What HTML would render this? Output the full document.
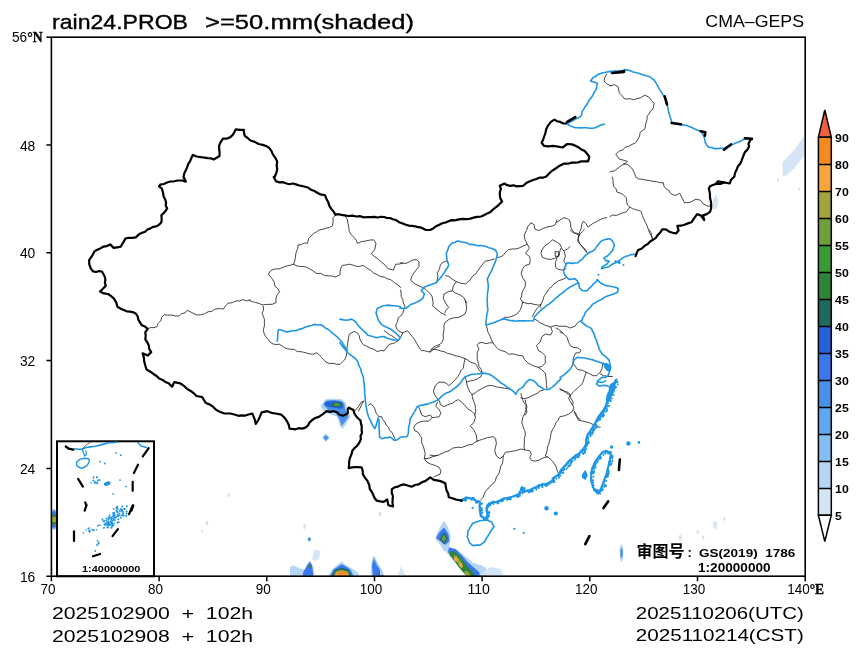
<!DOCTYPE html>
<html><head><meta charset="utf-8"><style>
html,body{margin:0;padding:0;background:#fff;}
body{width:860px;height:658px;overflow:hidden;}
svg{display:block;}
</style></head><body>
<svg width="860" height="658" viewBox="0 0 860 658">
<rect width="860" height="658" fill="#fff"/>
<defs><filter id="bl" x="-20%" y="-20%" width="140%" height="140%"><feGaussianBlur stdDeviation="0.7"/></filter><clipPath id="fr"><rect x="51.4" y="37" width="753.6" height="539"/></clipPath></defs><g clip-path="url(#fr)"><g filter="url(#bl)"><polygon points="322.5,403.4 325.1,399.6 330.1,398.8 341.8,399.2 345.5,402.5 347.2,408.4 350.6,416.8 347.2,422.2 342.6,428.9 339.7,426.0 337.6,416.8 330.9,414.7 326.7,413.0 322.1,409.6 320.5,405.9" fill="#b4d6f4"/><polygon points="324.2,402.5 326.7,400.5 335.1,400.0 341.8,400.9 344.3,403.4 345.1,409.2 348.5,416.8 345.1,421.8 341.8,426.0 339.3,419.3 335.1,412.6 329.2,410.9 325.9,407.6 323.4,405.1" fill="#4a90e6"/><polygon points="324.6,403.4 327.6,401.3 335.1,401.0 340.9,401.7 343.0,403.8 343.4,408.0 340.1,408.8 335.1,408.0 329.2,407.1 325.5,405.5" fill="#2464d8"/><ellipse cx="336.8" cy="404.6" rx="5.2" ry="2.4" fill="#1e6a5e"/><ellipse cx="336.8" cy="404.6" rx="3.6" ry="1.5" fill="#3a9a34"/><ellipse cx="336.8" cy="404.6" rx="1.8" ry="0.8" fill="#709e38"/><polygon points="325.9,433.7 329.5,437.7 325.9,441.7 322.3,437.7" fill="#84bef2"/><polygon points="325.9,435.2 328.2,437.7 325.9,440.2 323.6,437.7" fill="#4a90e6"/><polygon points="444.1,520.7 448.0,527.4 450.8,536.1 449.9,543.7 448.9,548.5 444.1,551.4 441.3,546.6 435.5,538.9 436.5,534.1 440.3,526.5" fill="#b4d6f4"/><polygon points="447.0,546.6 456.6,549.4 465.2,556.1 472.8,562.8 482.4,565.7 486.2,568.6 486.2,576.2 474.8,576.2 466.1,574.3 460.4,568.6 452.8,560.0 447.0,553.3 444.1,549.4" fill="#b4d6f4"/><polygon points="444.1,527.4 448.4,534.1 449.4,541.3 445.1,545.1 440.3,541.3 436.0,538.0 439.4,532.2" fill="#3a78ee"/><polygon points="448.9,547.5 455.6,549.0 461.8,555.2 467.6,561.9 474.3,568.1 479.5,572.4 479.5,576.2 470.9,576.2 465.2,572.4 458.5,564.8 452.8,558.1 448.0,552.3" fill="#3a78ee"/><polygon points="444.1,532.2 447.5,538.0 444.1,544.2 439.8,538.9" fill="#1e6a5e"/><polygon points="443.9,534.6 446.1,538.4 443.9,542.3 441.3,538.9" fill="#709e38"/><polygon points="449.9,551.8 453.7,550.9 458.0,554.2 462.8,560.0 467.6,566.7 472.4,571.5 474.8,576.2 467.1,576.2 463.3,572.4 458.5,566.7 453.7,560.0 449.9,555.2" fill="#2e8438"/><polygon points="453.7,555.2 456.6,555.7 461.4,561.9 463.3,566.7 461.4,568.6 457.5,562.8 453.7,558.1" fill="#a0a43c"/><ellipse cx="455.8" cy="559.5" rx="1.6" ry="2.2" fill="#f7a540" transform="rotate(-35.0 455.8 559.5)"/><ellipse cx="460.8" cy="565.0" rx="1.6" ry="2.2" fill="#f7a540" transform="rotate(-35.0 460.8 565.0)"/><polygon points="465.2,570.5 469.0,572.4 470.9,576.2 466.1,576.2 464.2,573.4" fill="#a0a43c"/><polygon points="290.0,567.1 293.5,565.3 299.3,568.3 305.1,569.4 308.6,561.3 310.3,561.3 313.8,568.3 314.4,575.8 290.0,575.8" fill="#b4d6f4"/><polygon points="312.1,559.0 314.4,549.7 320.2,550.8 319.1,559.0 315.0,561.3" fill="#d4e6f6"/><polygon points="302.8,572.9 307.4,564.8 309.8,561.9 312.1,564.8 313.3,575.8 302.8,575.8" fill="#3a78ee"/><ellipse cx="309.8" cy="566.5" rx="1.5" ry="1.6" fill="#2e8438"/><polygon points="328.4,575.8 331.9,569.4 338.8,563.6 341.7,561.3 344.7,564.2 351.6,568.3 358.6,572.9 358.6,575.8" fill="#b4d6f4"/><polygon points="330.1,575.8 333.6,569.4 338.8,565.9 341.7,564.2 345.2,565.9 350.5,569.4 353.4,575.8" fill="#3a78ee"/><polygon points="332.1,575.8 334.8,570.0 341.2,567.7 348.1,569.4 351.4,575.8" fill="#1e6a5e"/><polygon points="333.6,575.8 335.9,571.2 341.2,569.7 347.6,571.2 349.9,575.8" fill="#a0a43c"/><polygon points="334.8,575.8 337.1,572.7 341.2,571.7 346.4,572.7 348.7,575.8" fill="#f7a540"/><ellipse cx="342.0" cy="573.5" rx="4.5" ry="2.0" fill="#f58a22"/><polygon points="371.4,563.6 373.7,555.5 377.2,562.4 381.9,570.6 384.2,575.8 371.4,575.8" fill="#84bef2"/><polygon points="372.0,565.9 374.0,559.0 376.6,565.3 381.3,571.7 383.0,575.8 373.1,575.8" fill="#3a78ee"/><ellipse cx="379.5" cy="573.5" rx="1.4" ry="1.4" fill="#2e8438"/><ellipse cx="54.0" cy="519.5" rx="4.0" ry="10.5" fill="#84bef2"/><ellipse cx="54.0" cy="519.5" rx="3.5" ry="8.5" fill="#3a78ee"/><ellipse cx="54.0" cy="519.5" rx="3.0" ry="5.5" fill="#2e8438"/><ellipse cx="54.0" cy="519.5" rx="2.5" ry="2.8" fill="#a0a43c"/><polygon points="782.5,175.4 782.5,162.0 794.6,149.5 804.0,136.0 804.0,156.0 794.6,168.0 786.0,176.0" fill="#d4e6f6"/><polygon points="713.0,200.0 716.0,194.0 718.0,200.0 716.0,210.0 713.0,208.0" fill="#d4e6f6"/><polygon points="713.5,200.3 718.1,199.1 718.1,204.9 714.7,209.6 712.3,207.2" fill="#d4e6f6"/><ellipse cx="621.5" cy="553.0" rx="1.8" ry="9.0" fill="#b4d6f4"/><ellipse cx="621.5" cy="553.0" rx="1.2" ry="5.0" fill="#4a90e6"/><ellipse cx="680.3" cy="537.5" rx="1.6" ry="2.9" fill="#d4e6f6"/><ellipse cx="697.7" cy="532.0" rx="1.2" ry="2.2" fill="#d4e6f6"/><ellipse cx="703.0" cy="537.5" rx="1.2" ry="2.2" fill="#d4e6f6"/><ellipse cx="715.0" cy="525.0" rx="2.2" ry="4.0" fill="#d4e6f6"/><ellipse cx="724.4" cy="518.8" rx="1.2" ry="2.2" fill="#d4e6f6"/><ellipse cx="229.0" cy="495.0" rx="1.2" ry="2.2" fill="#d4e6f6"/><ellipse cx="207.0" cy="523.0" rx="1.4" ry="2.5" fill="#d4e6f6"/><ellipse cx="202.3" cy="531.0" rx="1.0" ry="1.8" fill="#d4e6f6"/><ellipse cx="304.7" cy="526.5" rx="1.4" ry="2.5" fill="#d4e6f6"/><ellipse cx="380.0" cy="513.7" rx="1.4" ry="2.5" fill="#d4e6f6"/><ellipse cx="778.0" cy="180.0" rx="1.0" ry="1.8" fill="#d4e6f6"/><ellipse cx="799.0" cy="189.0" rx="1.0" ry="1.8" fill="#d4e6f6"/><ellipse cx="315.0" cy="554.0" rx="1.5" ry="2.7" fill="#d4e6f6"/><polygon points="309.3,536.8 311.3,539.3 309.3,541.8 307.3,539.3" fill="#4a90e6"/><polygon points="398.0,575.0 401.0,566.0 405.0,575.0" fill="#d4e6f6"/><polygon points="480.0,575.0 490.0,567.0 501.0,569.0 503.0,575.0" fill="#d4e6f6"/><polygon points="380.0,568.0 383.0,575.0 380.0,575.0" fill="#b4d6f4"/></g></g>
<g fill="none" stroke-linejoin="round" stroke-linecap="round">
<path d="M147.7 328.8 150.6 327.5 154.0 327.7 157.0 326.5 158.2 323.3 160.7 320.8 161.6 317.4 164.0 314.9 167.8 315.1 171.8 315.1 175.6 316.0 179.1 316.0 181.5 313.8 185.0 312.9 187.2 310.2 191.9 312.6 196.5 314.9 200.7 314.8 204.7 313.7 208.0 311.8 211.9 311.3 215.1 309.1 219.2 308.5 223.3 309.1 225.4 306.0 227.9 303.3 232.2 302.7 236.0 300.9 239.6 300.9 243.0 299.6 246.6 300.9 250.0 299.8 M335.3 215.4 333.0 217.7 333.1 221.8 332.6 225.8 329.5 227.6 326.0 228.2 322.9 229.3 319.6 229.9 316.7 231.7 313.6 233.5 311.1 236.0 308.6 238.6 307.4 243.3 304.2 243.0 301.3 244.8 298.1 244.9 297.9 248.0 296.7 250.8 295.8 253.7 295.4 257.3 294.8 260.8 293.5 264.2 290.6 265.2 287.6 265.7 284.8 266.8 281.9 267.7 279.0 268.9 275.9 268.9 272.9 269.5 270.2 271.2 268.4 274.2 270.5 276.7 272.6 279.3 274.4 282.6 274.9 286.3 277.9 288.7 279.5 292.1 277.2 294.7 276.0 297.9 276.0 302.6 272.2 304.3 267.9 304.4 262.1 304.9 259.0 303.4 255.7 302.5 252.4 301.7 249.3 300.3 M293.5 264.2 296.8 265.9 300.5 266.5 303.8 266.5 306.8 267.4 309.8 268.9 313.3 271.1 316.7 273.5 320.8 273.4 324.4 275.6 328.4 275.8 331.9 276.0 335.3 277.0 340.0 274.7 340.1 271.4 340.8 268.3 342.3 265.4 345.9 265.0 349.3 264.2 352.4 264.9 355.4 266.0 358.6 266.5 363.3 265.4 366.6 267.9 370.2 270.0 373.4 272.8 377.2 274.7 380.4 276.6 384.2 277.0 387.1 278.8 390.6 279.6 393.5 281.7 395.8 283.6 398.5 285.1 400.5 287.5 M344.7 215.4 347.2 219.1 348.1 223.5 348.8 227.6 349.3 231.7 351.3 234.8 354.0 237.5 356.2 240.1 357.4 243.3 361.4 241.7 365.6 241.0 369.6 240.1 373.7 239.8 376.0 243.3 374.9 249.1 371.4 253.7 374.1 256.3 377.2 258.4 379.5 260.4 381.7 262.4 384.2 264.2 386.2 266.9 388.8 268.9 393.5 270.0 394.5 267.0 395.8 264.2 399.4 264.1 402.8 263.0 M606.7 74.2 604.8 77.5 604.0 81.2 606.9 83.8 610.2 85.8 M610.2 85.8 614.7 84.7 618.1 87.0 619.3 92.8 622.0 95.5 624.0 98.6 627.1 99.0 630.2 98.7 633.3 99.8 636.7 98.7 640.2 97.9 644.9 95.1 649.5 97.5 651.4 100.7 654.2 103.3 653.0 109.1 650.5 111.0 649.2 113.8 647.2 116.1 647.0 119.6 646.0 123.0 644.9 128.9 640.2 132.3 639.6 136.0 637.9 139.3 635.6 142.8 632.0 144.4 628.6 146.3 625.2 147.2 622.7 150.0 619.3 151.0 615.8 154.4 619.3 159.1 624.0 160.3 627.4 161.4 625.1 163.7 622.0 165.1 619.3 167.2 614.7 170.7 610.0 171.9 M624.0 163.7 627.8 164.7 630.9 167.2 633.0 170.1 634.5 173.2 635.6 176.5 M400.0 262.7 403.0 263.2 406.1 263.4 410.6 261.2 413.5 259.8 416.7 259.6 419.0 261.9 419.0 266.5 415.2 271.1 412.2 275.6 410.6 280.2 415.2 284.0 419.8 286.3 422.8 287.5 426.6 290.1 430.4 293.9 432.1 296.7 432.7 299.9 433.2 303.0 432.7 306.0 436.5 309.1 441.1 312.9 445.6 315.1 M436.5 282.5 437.4 279.2 437.9 275.9 437.3 272.6 439.5 269.1 440.3 265.0 442.5 262.5 445.6 261.2 448.4 262.7 M445.6 275.6 449.0 276.4 451.7 278.7 456.3 281.7 460.8 283.2 465.4 284.0 469.9 280.2 473.0 275.6 475.8 273.9 477.5 271.1 479.8 268.0 482.1 265.0 485.1 261.2 489.7 260.4 494.3 258.9 M456.3 281.7 453.2 286.3 452.5 290.8 448.7 291.6 444.1 293.9 443.3 298.4 445.6 303.0 448.7 307.5 445.6 310.6 444.9 312.9 M452.5 290.8 454.9 292.8 457.8 293.9 461.0 295.5 463.9 297.7 465.4 300.3 466.9 303.0 M606.7 217.7 603.4 218.2 600.4 219.5 597.4 221.2 592.8 223.5 588.1 227.0 586.1 223.9 583.5 221.2 581.7 224.5 581.2 228.2 579.8 231.6 578.8 235.1 577.7 241.0 580.1 243.8 582.3 246.8 585.8 251.4 M539.3 306.1 536.8 308.9 534.7 311.9 532.3 316.5 M612.3 177.0 613.0 180.1 613.2 183.2 613.5 186.3 616.0 188.8 617.0 192.1 620.0 193.0 622.8 194.4 626.3 197.9 626.6 201.5 627.4 204.9 629.8 207.2 626.3 211.9 622.7 212.8 619.3 214.2 616.3 215.5 612.9 215.0 610.0 216.5 M629.8 207.2 632.6 208.7 635.6 209.6 638.6 210.4 641.4 211.9 642.3 215.5 643.7 218.9 645.4 222.4 647.2 225.8 648.3 229.3 649.5 232.8 651.5 236.2 653.0 239.8 M635.6 177.0 638.8 179.0 642.6 179.3 646.0 180.2 649.5 180.5 653.0 181.4 656.5 181.7 659.9 182.7 663.5 182.8 663.8 186.0 665.8 188.6 668.7 190.3 670.5 193.3 675.1 195.6 679.8 193.3 682.1 197.9 684.4 202.6 689.1 202.6 692.7 201.0 696.0 199.1 700.7 200.3 703.0 203.7 707.7 206.1 711.2 206.1 M263.3 306.3 263.5 309.9 262.1 313.3 263.3 316.2 264.4 319.3 264.4 322.6 264.4 326.1 263.3 329.5 264.0 333.2 265.6 336.5 268.1 339.3 270.2 342.3 272.9 343.9 275.9 344.5 279.2 344.2 281.9 345.8 284.7 347.8 287.8 348.9 291.2 349.3 294.4 349.3 297.2 351.6 300.5 351.6 303.6 352.3 306.7 353.1 309.8 354.0 313.4 354.2 316.7 352.8 319.4 354.8 321.4 357.4 323.7 359.8 326.0 362.1 329.4 363.5 333.0 363.3 336.4 364.2 340.0 364.4 342.3 362.1 344.7 359.8 346.3 356.1 346.8 352.1 347.0 348.1 347.7 344.1 348.1 340.0 349.3 334.2 354.0 331.4 357.4 333.0 359.2 335.7 359.8 338.8 361.3 341.9 363.3 344.7 366.8 346.3 370.2 348.1 374.0 349.4 377.2 351.6 380.6 350.5 384.2 350.9 386.0 348.4 387.7 345.8 390.3 344.0 393.5 343.5 398.1 340.7 M384.2 330.7 388.8 334.2 391.8 335.8 394.7 337.7 398.1 340.7 M398.1 340.7 400.7 337.0 402.8 333.0 407.4 330.7 409.8 333.6 412.1 336.5 414.8 339.8 416.7 343.5 418.9 347.1 421.4 350.5 424.5 350.7 427.5 351.7 430.7 351.6 435.3 348.1 440.0 345.8 M400.5 290.0 401.2 293.1 401.1 296.4 402.8 299.3 403.2 303.0 405.1 306.3 403.6 309.6 402.8 313.3 400.8 315.9 398.1 317.9 397.6 321.6 395.8 324.9 396.3 328.1 398.1 330.7 402.8 333.0 M363.3 401.6 360.9 406.3 358.6 410.9 M465.0 300.0 465.9 303.5 466.7 307.0 466.3 310.6 465.0 314.0 461.6 316.0 458.0 317.5 453.5 317.9 449.2 319.2 444.9 322.7 443.8 326.1 444.0 329.7 443.1 335.0 443.4 338.6 442.2 342.0 440.0 344.3 437.0 345.5 434.1 346.7 431.7 349.0 430.0 352.4 M431.7 349.0 437.0 349.8 440.4 350.9 444.0 351.6 447.3 353.3 451.0 354.2 456.2 355.9 459.3 356.3 462.1 357.6 465.0 358.6 467.8 360.0 470.2 362.1 475.5 363.8 477.2 366.4 479.0 369.9 482.4 373.1 M465.0 358.6 464.1 362.9 463.2 368.2 461.0 370.5 459.7 373.4 458.2 376.2 456.2 378.7 452.7 382.2 449.2 385.7 446.8 383.7 444.0 382.2 438.7 382.2 435.2 385.7 433.5 390.9 434.5 394.8 437.0 397.9 439.6 401.4 M485.9 324.5 487.1 327.9 487.7 331.5 490.3 336.7 491.5 339.8 492.9 342.8 489.4 342.8 485.9 343.7 482.5 342.5 479.0 342.8 477.2 345.5 479.0 349.0 477.2 352.4 477.3 355.9 477.2 359.4 478.3 362.9 479.0 366.4 481.3 369.4 482.4 373.1 M492.9 342.8 496.4 347.2 498.7 349.5 501.7 350.7 505.5 351.8 508.7 354.2 513.1 353.9 517.4 355.1 522.7 355.9 524.4 359.4 527.9 362.9 531.3 364.8 534.9 366.4 538.4 367.3 541.9 369.9 545.4 373.4 545.8 376.9 546.3 380.4 546.4 384.8 547.1 389.2 M534.9 319.2 537.7 320.7 540.1 322.7 545.4 325.3 550.6 327.1 555.9 325.3 559.3 326.3 562.9 326.2 566.5 326.4 569.9 328.0 575.1 326.2 577.2 323.2 580.0 321.0 M550.6 327.1 552.4 331.5 550.6 335.0 545.4 334.1 541.9 336.7 540.1 342.0 536.6 345.5 538.4 350.7 541.9 352.4 545.4 355.9 545.1 359.4 545.4 362.9 541.9 366.4 538.4 367.3 M555.9 328.0 559.8 330.0 562.9 333.2 M465.0 376.9 466.2 380.3 466.7 383.9 468.5 389.2 469.9 392.0 472.0 394.4 472.5 398.0 473.7 401.4 475.0 404.8 475.5 408.4 475.7 411.8 474.6 415.0 M482.4 373.1 480.7 376.9 477.3 378.9 473.7 380.4 470.1 380.9 466.7 382.2 M472.0 394.4 475.5 392.7 477.9 390.7 480.7 389.2 485.9 386.5 489.4 385.4 492.9 385.7 496.3 386.9 499.9 387.4 505.2 388.3 510.4 389.2 M520.9 393.5 521.7 396.6 522.7 399.7 523.8 402.7 526.2 404.9 525.8 408.5 527.0 411.9 525.3 415.0 M520.9 397.9 524.4 398.6 527.9 397.9 531.3 396.1 534.9 394.4 537.8 393.1 540.1 390.9 543.6 390.0 M439.6 401.4 440.5 404.9 444.0 406.6 447.5 404.9 452.7 403.1 455.2 401.1 458.0 399.7 M560.0 332.0 563.5 333.7 567.0 337.2 568.7 342.4 570.5 345.9 574.0 347.7 577.5 347.7 581.0 350.3 579.2 352.9 575.7 352.9 574.0 356.4 573.1 359.9 573.1 363.4 575.7 366.9 577.5 369.5 582.7 370.4 586.2 372.2 589.7 373.9 593.2 375.7 596.7 375.7 600.2 372.2 602.0 368.7 602.8 363.4 M586.2 372.2 584.5 377.4 582.7 382.7 580.4 385.6 577.5 387.9 574.0 391.4 570.5 394.9 568.7 398.4 570.5 401.9 572.2 405.0 M560.0 389.7 565.2 391.4 568.3 392.4 570.5 394.9 M600.2 373.9 603.7 375.7 608.1 376.5 612.4 376.5 M458.8 400.0 461.5 402.2 464.1 404.4 467.6 408.7 472.0 411.4 474.6 414.0 475.5 417.5 473.7 422.7 470.2 426.2 473.7 429.7 476.3 435.0 476.7 438.0 477.2 441.1 M477.2 441.1 482.4 439.3 487.7 437.6 492.9 436.7 495.6 438.5 496.4 443.7 495.4 447.2 494.7 450.7 496.4 455.9 499.9 458.6 503.4 455.9 505.2 452.4 510.4 451.6 515.7 450.7 520.9 449.0 524.4 449.8 529.7 450.7 531.4 454.2 529.7 457.7 531.4 460.3 534.9 461.2 538.4 460.3 543.6 457.7 547.1 456.8 M477.2 441.1 474.4 442.6 472.0 444.6 468.3 444.9 465.0 446.3 461.6 447.5 458.0 447.2 452.7 448.1 449.2 450.7 444.0 452.4 438.7 455.1 435.2 455.9 430.0 455.1 M503.4 455.9 502.9 459.4 502.6 462.9 500.8 466.3 499.9 469.9 498.9 473.8 496.4 476.9 495.4 480.8 492.9 483.9 490.0 486.2 487.7 489.2 485.3 491.4 484.2 494.4 483.1 497.4 480.7 499.7 M525.3 400.0 525.9 403.6 527.0 407.0 525.3 412.2 522.7 417.5 521.8 422.7 523.5 428.0 525.0 431.3 525.3 435.0 524.4 438.4 524.4 442.0 524.1 445.9 524.4 449.8 M559.4 417.5 558.0 420.4 555.9 422.7 554.6 426.4 552.4 429.7 551.0 433.1 550.6 436.7 549.7 440.2 548.9 443.7 547.5 447.1 547.1 450.7 545.4 455.9 548.9 457.7 552.4 461.2 554.3 463.7 555.9 466.4 557.6 471.7 559.4 475.2 M574.2 412.2 576.9 417.5 580.0 419.2 M560.0 388.7 562.8 390.2 565.2 392.2 569.6 394.9 570.5 397.5 573.1 401.9 572.7 405.0 574.0 408.0 572.2 411.5 568.7 414.1 564.4 415.8 560.0 416.7 M574.0 410.6 576.6 415.0 578.4 420.2 582.7 421.1 586.2 422.0 589.7 422.8 593.2 424.6 595.0 426.3 600.2 427.2 M368.4 405.3 371.0 403.6 374.5 408.0 376.2 413.2 378.8 416.7 381.5 416.7 382.7 419.7 385.0 422.0 386.1 425.0 388.5 427.2 389.5 430.3 392.0 432.4 393.7 435.9 395.5 440.3 M418.2 406.2 419.9 409.7 421.7 415.0 425.2 416.7 430.4 415.0 432.2 417.6 428.7 421.1 423.4 421.1 419.9 422.0 416.4 423.7 413.8 427.2 414.7 430.7 418.2 432.4 419.7 435.2 421.7 437.7 421.7 442.9 423.4 446.4 424.3 449.9 425.2 453.4 424.3 458.7 426.9 462.2 430.4 463.9 435.7 465.7 439.2 467.4 440.9 470.9 440.0 474.4 436.8 475.4 433.9 477.0 M424.3 458.7 428.4 458.3 432.2 456.9 437.4 455.2 M437.4 402.7 435.7 406.2 439.2 409.7 440.9 413.2 439.2 416.7 435.7 417.3 432.2 417.6 M355.2 410.6 358.7 406.2 361.4 401.9 364.0 401.0 M570.4 230.0 573.4 233.0 576.6 233.1 579.5 234.6 582.5 231.5 584.1 230.0 M579.5 234.6 578.0 239.1 579.5 243.7 582.5 246.7 585.6 249.7 587.1 252.8 M649.4 230.0 651.0 232.8 651.7 236.1 652.4 239.1 M531.1 223.0 534.1 224.6 534.9 229.1 538.7 230.6 543.2 228.4 547.8 226.8 552.4 226.1 555.4 224.6 556.9 220.0 M556.7 222.3 560.2 220.0 563.7 217.7 566.8 218.4 569.5 220.0 570.6 223.4 570.7 227.0 572.1 230.1 574.2 232.8 578.8 235.1 M531.1 223.0 528.0 226.1 526.5 230.6 524.2 235.2 525.0 239.8 527.3 244.3 529.5 248.1 526.5 251.9 525.7 253.5 529.5 256.5 530.3 259.5 529.5 264.1 525.0 265.6 522.7 268.7 521.2 273.2 522.7 277.8 525.7 282.4 525.0 286.9 523.3 289.9 521.9 293.0 521.7 296.2 520.4 299.1 522.7 302.1 528.0 303.7 531.1 303.5 534.1 304.4 538.7 305.2 541.0 304.4 540.2 306.7 541.7 308.2 M527.3 244.3 523.5 245.9 518.9 248.1 515.9 248.9 512.8 248.9 508.3 249.7 505.2 252.7 502.9 255.7 499.1 257.3 497.6 257.3 M541.0 304.4 543.2 299.1 544.2 295.8 546.3 293.0 549.3 288.4 551.9 286.5 553.9 283.9 558.4 280.8 563.0 279.3 566.0 277.8 M522.7 302.1 521.9 305.2 520.4 309.7 516.6 314.3 511.3 316.6 508.3 317.3 505.2 317.3 502.2 318.9 M541.7 250.4 544.8 245.9 549.3 242.8 552.4 239.8 556.9 242.1 560.0 244.3 561.5 247.4 560.0 250.4 559.2 255.0 555.4 258.0 550.8 259.5 546.3 258.8 542.5 257.3 541.0 253.5 541.7 250.4 M561.5 248.1 564.5 251.9 565.3 256.5 563.8 261.1 565.7 264.1 M559.2 255.0 556.9 258.0 555.4 262.6 555.4 267.1 558.4 269.4 563.0 270.2 566.0 268.7 M555.1 251.9 558.4 251.6 558.7 256.2 555.4 256.5 555.1 251.9 M564.5 250.4 567.6 248.9 570.0 246.6" stroke="#262626" stroke-width="0.85"/>
<path d="M340.0 342.5 341.3 344.7 342.7 346.7 344.4 348.6 345.9 350.6 347.5 352.5 349.8 354.5 352.3 356.1 354.6 357.9 356.7 360.1 358.1 362.2 358.6 364.8 359.7 367.0 360.9 369.3 361.4 372.3 362.6 375.1 363.5 377.8 363.6 380.7 364.2 383.5 364.4 386.0 364.4 388.5 364.8 391.0 364.5 393.5 365.2 396.0 365.1 398.5 365.5 401.0 365.8 403.6 366.1 406.1 366.6 408.6 367.0 411.1 367.6 413.6 368.4 416.2 369.4 418.7 370.8 421.1 371.8 423.6 373.2 426.2 374.8 428.6 375.9 426.2 376.5 423.6 377.5 420.8 378.1 417.8 379.0 420.3 379.1 423.1 379.0 425.8 379.0 428.6 379.4 431.4 379.4 434.2 379.6 437.0 381.8 438.7 384.6 438.0 387.4 437.6 390.2 437.0 392.2 438.7 394.3 440.3 396.9 440.0 400.2 437.3 403.5 436.7 406.9 436.7 408.2 434.0 408.5 430.5 408.6 427.0 409.5 424.2 409.9 421.4 410.2 418.6 411.8 416.5 413.0 414.1 414.4 411.9 415.8 409.5 416.9 406.9 419.4 405.6 422.5 405.1 425.6 404.4 428.6 403.9 M567.2 124.2 569.5 125.4 572.3 126.8 575.3 127.7 578.1 127.7 580.8 127.9 583.5 127.7 586.6 127.7 589.7 128.3 592.8 128.2 595.8 127.4 598.6 126.1 601.4 124.9 604.4 124.2 M568.4 123.0 571.1 121.5 573.8 120.0 576.5 118.4 578.9 117.4 581.2 116.1 582.3 111.4 583.8 109.1 585.0 106.6 586.9 104.6 588.1 102.1 589.4 99.6 591.4 97.6 592.8 95.1 594.3 92.1 596.3 89.3 596.7 86.4 597.4 83.5 595.1 82.3 590.5 81.2 592.8 77.7 595.2 76.6 597.3 74.8 599.8 73.7 602.8 72.7 606.0 72.2 609.1 71.4 612.6 71.2 616.0 70.7 M610.0 71.9 613.5 72.0 617.0 71.4 619.7 70.8 622.5 70.5 625.1 69.6 627.9 70.1 630.6 70.9 633.3 71.9 636.4 72.8 639.5 73.6 642.6 74.7 646.0 75.8 649.5 76.5 651.8 78.4 654.2 80.0 655.9 82.9 657.7 85.8 659.2 88.9 661.2 91.7 662.9 94.6 664.7 97.5 665.9 100.9 667.0 104.4 667.8 107.5 668.3 110.7 669.3 113.7 669.8 116.5 671.0 119.1 671.6 121.9 674.4 123.3 677.4 124.2 680.9 124.9 684.4 124.9 687.9 126.1 691.4 127.2 694.3 128.7 697.2 130.0 699.6 131.0 701.9 132.3 703.0 134.7 704.2 137.0 704.8 139.9 705.3 142.8 707.0 145.2 708.8 147.5 711.6 147.5 714.2 148.6 717.0 148.6 720.5 148.4 724.0 148.2 726.3 147.1 728.7 146.3 730.9 145.1 733.7 144.0 736.4 142.8 739.1 141.7 742.0 140.3 744.9 138.6 749.5 138.2 M400.0 308.3 403.0 308.4 406.1 308.3 408.4 306.5 410.6 304.5 413.7 303.4 416.7 302.2 419.9 300.5 422.8 298.4 424.3 293.9 421.3 290.8 424.3 287.0 427.4 285.9 430.4 284.7 433.5 283.8 436.5 282.5 438.6 279.7 441.1 277.1 442.7 274.9 444.3 272.7 445.6 270.3 447.4 267.8 448.7 265.0 447.1 260.4 446.8 257.9 446.5 255.4 446.4 252.8 447.8 249.9 448.7 246.7 450.4 244.7 452.5 242.9 455.2 242.3 457.8 240.9 460.8 241.8 463.9 242.2 467.0 243.1 469.9 244.4 473.0 244.6 476.0 245.2 478.5 245.6 481.1 245.5 483.6 246.0 486.2 246.5 488.6 247.7 491.2 248.2 493.5 249.3 495.8 250.5 497.3 254.3 496.5 258.1 495.0 262.7 493.7 265.3 492.7 268.0 491.5 271.2 489.7 274.1 488.6 276.4 487.4 278.7 487.7 281.7 488.2 284.7 488.3 287.8 487.9 290.8 487.4 293.9 487.3 296.9 487.1 299.9 487.4 303.0 487.3 306.0 487.9 309.1 487.5 312.2 486.7 315.1 486.4 318.4 486.0 321.7 485.9 325.0 488.6 324.3 491.2 323.5 494.3 322.5 497.3 321.2 500.3 319.9 503.4 318.9 506.5 319.4 509.5 320.5 512.5 320.6 515.6 321.2 518.6 320.8 521.6 320.9 524.4 320.9 527.2 320.8 530.0 320.8 M529.5 320.7 533.3 321.0 534.7 316.5 537.0 314.2 539.3 311.8 541.6 309.6 544.0 307.9 546.1 305.8 548.7 304.4 550.9 302.6 553.4 300.7 555.4 298.3 557.9 296.5 560.2 294.4 562.7 292.8 564.8 290.9 567.1 289.0 569.5 287.5 571.8 286.1 574.2 285.1 576.4 283.7 578.8 282.8 M277.2 341.2 277.7 338.3 277.6 335.3 278.0 332.4 278.4 329.5 281.2 330.0 283.9 330.9 286.5 331.9 289.6 331.4 292.7 330.8 295.8 330.7 298.9 329.4 302.1 328.6 305.1 327.2 308.2 326.3 311.3 325.4 314.4 324.4 317.9 325.0 321.4 324.9 323.7 326.5 325.9 328.3 328.4 329.5 330.6 331.5 332.9 333.6 335.3 335.3 337.9 337.5 340.0 340.0 342.3 342.3 343.7 345.3 345.7 347.9 347.0 350.9 M340.0 319.1 343.4 319.9 347.0 320.2 351.6 319.1 354.1 320.6 356.3 322.6 358.6 326.0 360.9 328.4 363.3 330.7 365.7 332.9 367.9 335.3 371.0 336.1 374.1 337.0 377.2 337.7 380.6 336.8 384.2 336.5 386.4 338.0 388.8 338.8 393.5 340.0 398.1 340.0 400.5 337.7 398.1 335.4 395.8 333.0 393.5 331.3 391.2 329.5 388.9 328.3 386.5 327.2 384.1 326.1 381.9 324.9 380.0 322.6 378.4 320.2 377.3 316.7 376.0 313.3 377.2 308.6 379.6 307.5 381.9 306.3 385.3 305.5 388.8 305.1 391.9 305.7 395.1 305.7 398.1 306.3 400.5 306.7 M430.0 403.1 433.6 402.0 437.0 400.5 439.4 398.6 441.6 396.4 444.0 394.4 446.2 393.1 448.7 392.2 451.0 390.9 453.3 389.2 455.7 387.5 458.0 385.7 459.8 383.5 461.6 381.4 463.0 379.0 465.0 376.9 468.4 375.4 472.0 374.3 474.6 374.3 477.2 374.0 479.9 373.6 482.4 373.1 486.0 373.4 489.4 374.3 492.2 375.8 494.7 377.8 497.4 379.9 499.9 382.2 502.6 383.9 505.2 385.7 507.7 387.5 510.4 389.2 513.9 391.8 515.7 394.4 517.4 390.9 519.9 388.9 522.7 387.4 524.4 384.8 526.2 382.2 529.7 379.5 533.1 380.4 536.0 382.8 538.4 385.7 541.2 387.2 543.6 389.2 546.3 389.5 548.9 389.5 551.5 387.6 554.1 385.7 556.5 383.4 558.7 380.9 561.1 378.7 M581.0 320.6 581.0 321.5 583.7 323.6 586.2 325.8 588.9 327.1 591.5 328.5 592.5 331.2 594.1 333.7 594.7 336.4 595.8 339.0 596.9 341.5 597.6 344.2 598.6 346.8 599.3 349.4 600.7 351.6 602.0 353.8 604.2 355.5 606.3 357.3 609.0 359.9 609.8 363.4 610.7 366.9 609.8 370.4 609.0 373.1 608.1 375.7 605.5 377.4 602.0 377.4 599.8 379.2 597.6 380.9 596.7 384.4 599.3 386.2 602.4 385.5 605.5 385.3 608.1 386.2 610.7 387.0 614.2 389.7 M560.0 377.4 562.7 375.8 565.2 373.9 567.9 371.3 570.5 368.7 572.0 366.2 573.1 363.4 574.0 359.9 577.5 357.3 580.4 357.6 583.3 357.7 586.2 358.2 589.7 359.2 593.2 359.9 595.8 361.1 598.5 361.7 602.8 363.4 607.2 364.3 609.8 366.9 M596.7 383.5 598.5 381.7 602.0 382.6 605.5 380.9 M473.0 523.0 476.5 522.0 480.0 520.7 483.5 520.3 487.0 520.0 489.3 521.0 491.6 521.9 492.7 524.3 494.0 526.5 491.6 530.0 489.8 532.8 488.1 535.8 486.1 538.6 484.7 541.6 482.4 543.4 480.0 545.1 476.5 545.1 473.0 545.6 469.5 542.8 468.5 539.8 467.2 537.0 467.8 534.1 467.9 531.2 469.5 528.9 470.7 526.5 473.0 523.0 M563.5 270.3 565.1 266.5 567.3 262.7 571.9 263.4 574.9 263.0 578.0 262.7 580.1 260.6 582.5 258.9 585.6 255.1 587.9 253.7 590.1 252.0 592.6 251.2 594.7 249.7 596.1 247.4 597.7 245.2 600.8 241.4 603.8 239.9 606.8 239.1 609.9 238.8 612.2 240.6 613.5 242.8 614.4 245.2 612.9 249.7 610.6 252.8 607.6 255.8 603.8 258.1 605.3 260.4 609.1 261.1 606.8 264.2 604.6 265.4 602.3 266.5 601.5 268.7 604.1 267.8 606.8 267.2 609.3 266.4 611.4 264.9 613.5 263.5 616.0 262.7 618.2 261.0 620.5 259.6 622.6 257.9 625.1 256.6 628.1 255.7 631.1 254.6 635.7 254.3 M563.5 270.3 564.3 274.1 566.6 277.1 568.9 279.4 571.9 279.2 574.9 278.6 577.2 280.9 578.7 283.9 579.5 287.7 582.5 290.8 587.1 290.8 589.2 288.3 591.6 286.2 593.3 284.1 595.4 282.4 597.7 280.1 600.8 283.2 603.1 284.3 605.3 285.4 609.9 286.2 614.4 287.0 618.2 288.5 617.5 292.3 614.4 293.8 609.9 295.3 605.3 296.8 603.0 298.3 600.8 299.9 598.4 300.8 596.2 302.2 592.4 304.4 590.1 307.5 587.1 310.5 584.8 313.5 584.0 316.0 582.5 318.1 581.8 321.1" stroke="#1e96e6" stroke-width="1.6"/>
<path d="M615.9 380.0 614.2 385.2 612.4 390.5 609.8 394.0 608.1 399.2 606.3 404.5 604.6 408.8 602.0 412.3 598.5 416.7 595.8 422.0 593.2 426.3 590.6 430.7 588.0 434.2 586.2 439.4 586.2 444.7 582.7 449.9 579.2 453.4 574.0 456.9 568.7 461.3 565.2 465.7 561.7 469.2 560.0 471.8" stroke="#1e96e6" stroke-width="2.3"/>
<path d="M552.4 478.7 557.6 475.2 561.1 471.7 M606.3 450.8 609.8 452.6 610.7 455.2 609.8 460.4 608.1 467.4 606.3 474.4 603.7 481.4 601.1 488.4 599.3 492.8 597.6 493.6 594.1 489.3 592.3 484.9 591.1 477.9 591.5 470.9 594.1 463.9 598.5 456.9 602.8 452.0 606.3 450.8 M461.4 500.9 466.0 497.4 471.9 498.6 476.5 500.9 480.0 502.1 479.5 505.6 480.0 512.6 482.3 517.2 485.8 518.4 487.4 514.9 486.5 510.2 487.0 505.6 489.3 503.3 496.3 502.1 503.3 498.6 510.2 497.4 519.5 494.0 521.9 487.0 524.2 491.6 528.8 490.5 538.1 485.8 547.4 483.5 553.3 480.0" stroke="#1e96e6" stroke-width="2.0"/>
<g fill="#1e96e6" stroke="none"><circle cx="615.3" cy="383.1" r="0.88"/><circle cx="615.7" cy="382.1" r="1.03"/><circle cx="616.8" cy="379.5" r="0.88"/><circle cx="617.6" cy="381.8" r="0.93"/><circle cx="617.7" cy="384.5" r="0.99"/><circle cx="613.8" cy="387.3" r="0.95"/><circle cx="615.5" cy="381.0" r="1.14"/><circle cx="617.1" cy="382.3" r="0.98"/><circle cx="612.9" cy="387.4" r="0.92"/><circle cx="613.9" cy="389.0" r="1.05"/><circle cx="613.9" cy="389.6" r="1.09"/><circle cx="615.2" cy="387.5" r="1.16"/><circle cx="613.4" cy="391.7" r="0.89"/><circle cx="615.6" cy="387.1" r="1.02"/><circle cx="615.9" cy="387.3" r="1.05"/><circle cx="613.2" cy="391.4" r="1.06"/><circle cx="612.0" cy="394.6" r="1.18"/><circle cx="613.0" cy="391.5" r="1.10"/><circle cx="613.7" cy="394.8" r="0.95"/><circle cx="613.2" cy="391.0" r="1.01"/><circle cx="611.8" cy="390.4" r="1.12"/><circle cx="612.4" cy="391.4" r="1.15"/><circle cx="610.7" cy="395.5" r="1.16"/><circle cx="610.9" cy="398.4" r="1.00"/><circle cx="611.8" cy="398.4" r="0.90"/><circle cx="609.8" cy="394.9" r="1.02"/><circle cx="609.1" cy="396.2" r="1.00"/><circle cx="610.6" cy="398.5" r="1.09"/><circle cx="610.5" cy="398.2" r="0.87"/><circle cx="610.5" cy="401.0" r="1.13"/><circle cx="608.2" cy="400.8" r="1.07"/><circle cx="607.6" cy="399.4" r="0.91"/><circle cx="607.1" cy="400.1" r="0.90"/><circle cx="608.6" cy="399.0" r="1.16"/><circle cx="606.9" cy="402.5" r="0.97"/><circle cx="607.3" cy="403.3" r="1.20"/><circle cx="608.4" cy="401.1" r="0.89"/><circle cx="607.8" cy="403.1" r="0.91"/><circle cx="609.1" cy="405.6" r="0.90"/><circle cx="604.9" cy="407.9" r="1.19"/><circle cx="606.7" cy="408.3" r="0.98"/><circle cx="608.2" cy="406.2" r="1.12"/><circle cx="606.0" cy="407.9" r="1.19"/><circle cx="607.1" cy="410.2" r="1.11"/><circle cx="607.2" cy="405.8" r="0.86"/><circle cx="604.9" cy="409.0" r="1.09"/><circle cx="603.1" cy="414.7" r="1.20"/><circle cx="602.8" cy="412.1" r="0.93"/><circle cx="604.2" cy="410.9" r="1.17"/><circle cx="603.5" cy="413.2" r="1.13"/><circle cx="606.1" cy="411.5" r="1.12"/><circle cx="600.5" cy="415.4" r="1.13"/><circle cx="603.1" cy="416.4" r="0.99"/><circle cx="603.4" cy="415.8" r="0.91"/><circle cx="601.5" cy="415.3" r="1.13"/><circle cx="603.8" cy="415.6" r="1.08"/><circle cx="602.1" cy="413.4" r="0.85"/><circle cx="600.3" cy="417.6" r="1.18"/><circle cx="603.0" cy="416.3" r="0.92"/><circle cx="598.3" cy="418.0" r="1.06"/><circle cx="598.7" cy="417.6" r="1.17"/><circle cx="598.6" cy="419.8" r="1.17"/><circle cx="600.1" cy="419.8" r="1.04"/><circle cx="596.6" cy="420.1" r="0.91"/><circle cx="600.7" cy="416.5" r="1.02"/><circle cx="598.0" cy="420.8" r="1.03"/><circle cx="599.2" cy="419.1" r="1.05"/><circle cx="595.6" cy="424.9" r="1.03"/><circle cx="596.5" cy="426.8" r="1.01"/><circle cx="595.5" cy="425.6" r="1.09"/><circle cx="596.0" cy="424.8" r="1.18"/><circle cx="596.6" cy="427.5" r="0.94"/><circle cx="597.2" cy="426.5" r="0.90"/><circle cx="596.5" cy="421.9" r="0.93"/><circle cx="594.8" cy="428.6" r="1.16"/><circle cx="594.8" cy="428.5" r="0.90"/><circle cx="593.8" cy="430.1" r="1.18"/><circle cx="593.3" cy="430.7" r="1.14"/><circle cx="593.7" cy="428.0" r="0.97"/><circle cx="593.3" cy="428.9" r="0.86"/><circle cx="592.7" cy="427.9" r="0.97"/><circle cx="590.2" cy="432.2" r="1.19"/><circle cx="591.4" cy="432.9" r="0.94"/><circle cx="592.7" cy="430.9" r="0.90"/><circle cx="592.2" cy="434.2" r="0.94"/><circle cx="592.9" cy="432.4" r="1.10"/><circle cx="590.0" cy="432.6" r="1.00"/><circle cx="590.6" cy="436.0" r="1.13"/><circle cx="590.3" cy="434.0" r="1.15"/><circle cx="587.8" cy="437.7" r="1.17"/><circle cx="587.4" cy="436.6" r="0.93"/><circle cx="587.8" cy="434.1" r="0.92"/><circle cx="587.9" cy="437.7" r="0.95"/><circle cx="587.1" cy="437.2" r="0.86"/><circle cx="587.0" cy="437.2" r="1.04"/><circle cx="587.3" cy="442.9" r="0.89"/><circle cx="587.2" cy="444.6" r="1.14"/><circle cx="587.4" cy="443.1" r="1.19"/><circle cx="588.6" cy="442.9" r="1.07"/><circle cx="586.9" cy="440.9" r="0.90"/><circle cx="588.3" cy="439.8" r="0.91"/><circle cx="588.7" cy="442.1" r="1.08"/><circle cx="585.5" cy="446.3" r="1.01"/><circle cx="586.7" cy="445.6" r="1.19"/><circle cx="584.2" cy="449.8" r="1.19"/><circle cx="585.8" cy="445.4" r="0.98"/><circle cx="585.8" cy="447.0" r="1.03"/><circle cx="586.6" cy="444.1" r="0.99"/><circle cx="585.6" cy="445.1" r="0.93"/><circle cx="585.5" cy="449.6" r="1.08"/><circle cx="586.3" cy="448.9" r="0.96"/><circle cx="579.2" cy="455.1" r="1.08"/><circle cx="585.0" cy="452.4" r="1.07"/><circle cx="582.5" cy="452.1" r="1.03"/><circle cx="583.4" cy="453.7" r="1.14"/><circle cx="583.3" cy="453.5" r="1.09"/><circle cx="581.4" cy="450.3" r="0.98"/><circle cx="584.8" cy="451.4" r="1.07"/><circle cx="577.8" cy="456.5" r="0.85"/><circle cx="577.1" cy="457.1" r="1.04"/><circle cx="575.4" cy="457.5" r="0.94"/><circle cx="579.2" cy="455.4" r="0.92"/><circle cx="578.3" cy="456.9" r="0.98"/><circle cx="578.6" cy="457.0" r="1.07"/><circle cx="575.5" cy="455.3" r="0.94"/><circle cx="575.8" cy="457.2" r="0.85"/><circle cx="579.3" cy="455.2" r="1.09"/><circle cx="570.9" cy="460.8" r="1.01"/><circle cx="571.4" cy="461.3" r="0.92"/><circle cx="571.6" cy="460.4" r="1.01"/><circle cx="572.6" cy="461.2" r="0.94"/><circle cx="575.7" cy="457.7" r="1.05"/><circle cx="574.5" cy="460.1" r="0.90"/><circle cx="570.9" cy="462.8" r="1.10"/><circle cx="575.4" cy="458.8" r="0.86"/><circle cx="575.1" cy="457.7" r="0.96"/><circle cx="573.9" cy="457.8" r="1.14"/><circle cx="570.8" cy="463.4" r="0.89"/><circle cx="567.5" cy="467.7" r="0.95"/><circle cx="568.3" cy="465.6" r="1.06"/><circle cx="568.4" cy="463.0" r="0.87"/><circle cx="570.8" cy="461.9" r="1.18"/><circle cx="568.2" cy="463.3" r="0.92"/><circle cx="570.3" cy="465.2" r="1.13"/><circle cx="569.2" cy="466.5" r="1.04"/><circle cx="562.3" cy="469.9" r="1.01"/><circle cx="564.3" cy="468.4" r="0.87"/><circle cx="561.9" cy="469.7" r="0.97"/><circle cx="566.3" cy="469.3" r="0.94"/><circle cx="563.4" cy="469.1" r="0.99"/><circle cx="564.6" cy="466.1" r="1.17"/><circle cx="563.7" cy="469.8" r="1.20"/><circle cx="560.9" cy="470.1" r="0.88"/><circle cx="560.9" cy="470.0" r="0.94"/><circle cx="563.3" cy="472.5" r="0.99"/><circle cx="562.3" cy="470.7" r="0.97"/><circle cx="553.0" cy="480.5" r="0.89"/><circle cx="556.4" cy="478.7" r="0.93"/><circle cx="554.0" cy="478.2" r="1.01"/><circle cx="559.3" cy="477.1" r="0.86"/><circle cx="554.1" cy="480.4" r="1.02"/><circle cx="555.0" cy="477.0" r="1.17"/><circle cx="558.7" cy="477.9" r="0.94"/><circle cx="552.9" cy="479.1" r="1.09"/><circle cx="562.5" cy="473.0" r="1.12"/><circle cx="560.3" cy="473.0" r="1.12"/><circle cx="560.6" cy="475.5" r="0.96"/><circle cx="558.3" cy="475.8" r="1.09"/><circle cx="557.7" cy="475.6" r="1.05"/><circle cx="559.1" cy="474.8" r="0.85"/><circle cx="608.2" cy="453.4" r="1.08"/><circle cx="610.3" cy="452.3" r="0.94"/><circle cx="611.2" cy="452.6" r="0.86"/><circle cx="609.5" cy="452.2" r="0.94"/><circle cx="610.8" cy="451.9" r="0.86"/><circle cx="610.9" cy="454.7" r="0.92"/><circle cx="612.2" cy="455.4" r="0.92"/><circle cx="611.1" cy="456.7" r="0.93"/><circle cx="612.2" cy="456.5" r="1.18"/><circle cx="610.3" cy="457.7" r="1.00"/><circle cx="612.4" cy="458.4" r="0.99"/><circle cx="612.8" cy="456.0" r="0.87"/><circle cx="611.3" cy="457.4" r="1.16"/><circle cx="612.5" cy="461.0" r="0.97"/><circle cx="611.7" cy="463.1" r="0.86"/><circle cx="609.3" cy="465.4" r="0.97"/><circle cx="609.1" cy="461.7" r="0.97"/><circle cx="608.0" cy="469.2" r="0.92"/><circle cx="611.1" cy="464.6" r="1.00"/><circle cx="610.6" cy="461.1" r="1.17"/><circle cx="610.1" cy="463.6" r="0.86"/><circle cx="611.0" cy="464.8" r="0.86"/><circle cx="609.5" cy="462.6" r="0.94"/><circle cx="608.9" cy="472.9" r="0.95"/><circle cx="607.7" cy="474.1" r="1.10"/><circle cx="607.8" cy="468.9" r="1.11"/><circle cx="607.8" cy="475.8" r="0.86"/><circle cx="608.6" cy="471.1" r="1.18"/><circle cx="607.6" cy="470.6" r="1.02"/><circle cx="606.5" cy="475.5" r="1.11"/><circle cx="608.4" cy="474.2" r="0.96"/><circle cx="608.1" cy="471.2" r="0.88"/><circle cx="607.5" cy="475.8" r="0.87"/><circle cx="607.4" cy="474.9" r="1.19"/><circle cx="606.4" cy="480.6" r="0.88"/><circle cx="607.0" cy="476.4" r="1.01"/><circle cx="606.4" cy="477.1" r="1.09"/><circle cx="606.3" cy="480.8" r="0.89"/><circle cx="604.5" cy="481.2" r="0.98"/><circle cx="604.5" cy="479.6" r="0.94"/><circle cx="608.0" cy="476.4" r="0.96"/><circle cx="605.0" cy="484.9" r="0.93"/><circle cx="603.0" cy="489.2" r="0.89"/><circle cx="604.3" cy="486.4" r="1.17"/><circle cx="604.0" cy="481.3" r="0.92"/><circle cx="602.4" cy="490.2" r="0.98"/><circle cx="602.2" cy="487.5" r="1.12"/><circle cx="601.1" cy="489.0" r="1.07"/><circle cx="603.7" cy="482.6" r="0.92"/><circle cx="604.3" cy="484.3" r="0.92"/><circle cx="601.5" cy="489.7" r="0.91"/><circle cx="600.6" cy="491.3" r="1.04"/><circle cx="600.8" cy="489.1" r="1.04"/><circle cx="599.7" cy="490.9" r="1.09"/><circle cx="600.7" cy="490.3" r="1.18"/><circle cx="601.7" cy="490.1" r="1.00"/><circle cx="600.2" cy="493.8" r="0.92"/><circle cx="598.2" cy="492.7" r="1.17"/><circle cx="598.0" cy="492.2" r="1.16"/><circle cx="596.0" cy="490.9" r="1.04"/><circle cx="597.5" cy="490.4" r="1.07"/><circle cx="597.3" cy="491.7" r="0.95"/><circle cx="598.0" cy="491.0" r="1.02"/><circle cx="597.1" cy="490.0" r="0.89"/><circle cx="596.6" cy="490.2" r="0.87"/><circle cx="593.1" cy="487.1" r="1.07"/><circle cx="592.6" cy="487.2" r="0.93"/><circle cx="595.3" cy="489.2" r="0.91"/><circle cx="594.4" cy="489.1" r="0.98"/><circle cx="594.1" cy="490.1" r="1.16"/><circle cx="595.2" cy="490.5" r="0.86"/><circle cx="591.2" cy="480.0" r="1.04"/><circle cx="592.0" cy="481.0" r="1.05"/><circle cx="593.2" cy="482.5" r="1.00"/><circle cx="593.6" cy="485.4" r="0.93"/><circle cx="593.2" cy="480.2" r="0.91"/><circle cx="591.6" cy="481.2" r="1.00"/><circle cx="593.0" cy="485.0" r="0.86"/><circle cx="591.3" cy="481.8" r="1.12"/><circle cx="591.4" cy="482.0" r="0.98"/><circle cx="591.4" cy="473.0" r="1.20"/><circle cx="593.2" cy="472.6" r="1.19"/><circle cx="593.6" cy="476.4" r="0.91"/><circle cx="593.6" cy="471.9" r="0.97"/><circle cx="591.4" cy="474.5" r="0.95"/><circle cx="591.3" cy="472.9" r="1.17"/><circle cx="591.5" cy="477.2" r="0.96"/><circle cx="591.2" cy="477.4" r="1.18"/><circle cx="593.5" cy="472.9" r="1.12"/><circle cx="592.8" cy="471.2" r="0.98"/><circle cx="594.9" cy="465.8" r="1.16"/><circle cx="594.1" cy="471.3" r="0.99"/><circle cx="593.8" cy="467.5" r="1.05"/><circle cx="594.1" cy="468.9" r="0.91"/><circle cx="593.1" cy="467.4" r="0.94"/><circle cx="595.5" cy="467.4" r="1.08"/><circle cx="591.8" cy="468.1" r="0.90"/><circle cx="593.8" cy="467.4" r="1.16"/><circle cx="594.8" cy="464.2" r="0.86"/><circle cx="594.6" cy="463.5" r="0.98"/><circle cx="596.3" cy="463.3" r="0.92"/><circle cx="597.7" cy="459.2" r="1.18"/><circle cx="595.1" cy="461.8" r="1.07"/><circle cx="599.7" cy="458.3" r="0.94"/><circle cx="595.5" cy="464.7" r="0.97"/><circle cx="597.7" cy="461.4" r="1.11"/><circle cx="597.3" cy="461.6" r="1.04"/><circle cx="596.1" cy="460.5" r="1.12"/><circle cx="599.6" cy="458.9" r="0.90"/><circle cx="600.6" cy="456.7" r="1.07"/><circle cx="602.0" cy="453.1" r="0.96"/><circle cx="600.8" cy="458.2" r="1.10"/><circle cx="600.4" cy="458.3" r="1.01"/><circle cx="602.5" cy="453.2" r="0.89"/><circle cx="599.1" cy="456.0" r="1.11"/><circle cx="603.5" cy="454.9" r="0.94"/><circle cx="605.5" cy="452.9" r="1.03"/><circle cx="605.1" cy="453.8" r="0.93"/><circle cx="605.5" cy="451.0" r="0.93"/><circle cx="607.7" cy="452.5" r="0.96"/><circle cx="466.0" cy="497.8" r="1.17"/><circle cx="465.8" cy="499.9" r="1.19"/><circle cx="465.5" cy="500.6" r="1.15"/><circle cx="465.0" cy="500.3" r="0.96"/><circle cx="463.7" cy="499.7" r="1.17"/><circle cx="461.7" cy="500.0" r="1.18"/><circle cx="462.9" cy="499.1" r="0.86"/><circle cx="471.4" cy="499.5" r="1.11"/><circle cx="467.6" cy="497.8" r="1.14"/><circle cx="472.9" cy="497.9" r="1.15"/><circle cx="473.6" cy="498.1" r="0.92"/><circle cx="466.3" cy="499.3" r="1.13"/><circle cx="471.6" cy="499.3" r="0.95"/><circle cx="466.4" cy="499.0" r="0.92"/><circle cx="474.1" cy="498.7" r="0.94"/><circle cx="474.8" cy="499.6" r="0.96"/><circle cx="477.3" cy="502.6" r="1.07"/><circle cx="472.7" cy="499.2" r="1.12"/><circle cx="475.0" cy="500.2" r="0.93"/><circle cx="475.7" cy="502.3" r="0.91"/><circle cx="476.6" cy="502.4" r="1.19"/><circle cx="477.5" cy="501.6" r="1.13"/><circle cx="478.1" cy="501.4" r="1.14"/><circle cx="479.7" cy="501.3" r="0.93"/><circle cx="480.6" cy="504.1" r="1.07"/><circle cx="481.8" cy="503.7" r="1.13"/><circle cx="480.3" cy="504.7" r="0.99"/><circle cx="479.4" cy="507.0" r="0.86"/><circle cx="479.9" cy="508.9" r="1.03"/><circle cx="481.8" cy="508.2" r="1.01"/><circle cx="481.5" cy="510.7" r="1.08"/><circle cx="480.2" cy="507.7" r="1.15"/><circle cx="481.5" cy="510.0" r="1.00"/><circle cx="481.1" cy="510.6" r="1.01"/><circle cx="480.2" cy="511.6" r="0.96"/><circle cx="481.8" cy="510.2" r="0.90"/><circle cx="480.1" cy="508.1" r="0.91"/><circle cx="480.8" cy="516.2" r="1.11"/><circle cx="482.5" cy="512.6" r="0.98"/><circle cx="484.1" cy="518.5" r="1.00"/><circle cx="481.8" cy="513.1" r="0.92"/><circle cx="480.5" cy="514.8" r="1.13"/><circle cx="482.6" cy="516.9" r="1.01"/><circle cx="484.1" cy="517.8" r="1.11"/><circle cx="486.3" cy="519.2" r="1.11"/><circle cx="484.0" cy="519.1" r="1.16"/><circle cx="486.6" cy="519.8" r="1.09"/><circle cx="487.7" cy="516.3" r="1.07"/><circle cx="486.7" cy="519.6" r="1.10"/><circle cx="487.1" cy="516.7" r="1.01"/><circle cx="487.5" cy="517.4" r="1.18"/><circle cx="487.5" cy="519.3" r="0.99"/><circle cx="489.3" cy="512.0" r="1.04"/><circle cx="489.1" cy="516.1" r="1.03"/><circle cx="488.5" cy="515.3" r="1.10"/><circle cx="488.3" cy="514.2" r="1.03"/><circle cx="489.3" cy="512.9" r="1.09"/><circle cx="488.8" cy="512.7" r="1.19"/><circle cx="486.4" cy="508.6" r="0.99"/><circle cx="487.2" cy="510.7" r="1.09"/><circle cx="487.0" cy="508.5" r="1.11"/><circle cx="488.0" cy="505.8" r="1.13"/><circle cx="486.8" cy="508.1" r="1.12"/><circle cx="488.2" cy="507.1" r="1.05"/><circle cx="489.8" cy="505.4" r="1.07"/><circle cx="490.8" cy="504.3" r="0.95"/><circle cx="488.1" cy="506.0" r="0.97"/><circle cx="489.2" cy="504.0" r="0.94"/><circle cx="492.3" cy="502.0" r="1.10"/><circle cx="491.5" cy="503.1" r="1.02"/><circle cx="493.6" cy="503.9" r="0.98"/><circle cx="497.8" cy="501.6" r="1.14"/><circle cx="497.4" cy="501.9" r="1.14"/><circle cx="493.3" cy="501.8" r="1.18"/><circle cx="494.1" cy="502.1" r="0.90"/><circle cx="492.7" cy="503.3" r="0.90"/><circle cx="497.4" cy="502.0" r="1.16"/><circle cx="502.3" cy="501.2" r="1.16"/><circle cx="503.7" cy="499.2" r="1.09"/><circle cx="501.6" cy="500.8" r="1.16"/><circle cx="500.4" cy="500.1" r="0.90"/><circle cx="499.4" cy="501.0" r="0.90"/><circle cx="500.7" cy="501.2" r="1.15"/><circle cx="498.3" cy="502.7" r="1.05"/><circle cx="502.9" cy="500.1" r="1.00"/><circle cx="502.7" cy="499.9" r="1.07"/><circle cx="497.8" cy="503.2" r="1.18"/><circle cx="507.9" cy="499.0" r="1.02"/><circle cx="509.1" cy="498.9" r="1.07"/><circle cx="507.6" cy="498.5" r="1.02"/><circle cx="508.7" cy="497.9" r="1.00"/><circle cx="507.3" cy="499.8" r="0.95"/><circle cx="509.7" cy="498.4" r="0.95"/><circle cx="509.1" cy="499.2" r="1.13"/><circle cx="506.0" cy="498.4" r="1.06"/><circle cx="509.5" cy="497.3" r="1.10"/><circle cx="519.6" cy="493.8" r="0.96"/><circle cx="510.4" cy="499.4" r="1.06"/><circle cx="518.1" cy="497.0" r="1.06"/><circle cx="517.3" cy="496.6" r="1.06"/><circle cx="516.7" cy="496.3" r="1.01"/><circle cx="517.1" cy="494.6" r="0.86"/><circle cx="519.6" cy="495.9" r="0.98"/><circle cx="519.7" cy="495.5" r="0.94"/><circle cx="513.8" cy="496.6" r="1.00"/><circle cx="518.4" cy="494.6" r="1.05"/><circle cx="510.5" cy="498.9" r="1.05"/><circle cx="519.6" cy="493.6" r="0.99"/><circle cx="523.1" cy="491.9" r="1.02"/><circle cx="520.3" cy="492.2" r="0.92"/><circle cx="519.5" cy="492.2" r="1.09"/><circle cx="522.1" cy="492.6" r="1.15"/><circle cx="519.4" cy="494.4" r="0.93"/><circle cx="521.3" cy="488.3" r="1.12"/><circle cx="523.2" cy="490.4" r="0.88"/><circle cx="522.6" cy="490.2" r="1.18"/><circle cx="522.4" cy="493.5" r="0.85"/><circle cx="523.3" cy="488.7" r="0.88"/><circle cx="524.2" cy="488.2" r="1.15"/><circle cx="522.7" cy="489.6" r="1.05"/><circle cx="524.4" cy="488.7" r="1.13"/><circle cx="524.1" cy="489.8" r="1.00"/><circle cx="524.5" cy="490.8" r="1.12"/><circle cx="527.2" cy="490.4" r="1.19"/><circle cx="529.4" cy="491.0" r="1.06"/><circle cx="530.6" cy="491.5" r="0.96"/><circle cx="528.3" cy="491.5" r="1.09"/><circle cx="529.1" cy="492.5" r="0.95"/><circle cx="524.5" cy="492.1" r="1.06"/><circle cx="538.5" cy="486.1" r="1.14"/><circle cx="538.4" cy="487.6" r="0.95"/><circle cx="538.6" cy="487.8" r="1.17"/><circle cx="531.8" cy="489.7" r="1.13"/><circle cx="532.4" cy="491.5" r="0.93"/><circle cx="536.0" cy="488.3" r="0.92"/><circle cx="532.9" cy="490.8" r="1.01"/><circle cx="531.5" cy="491.6" r="0.93"/><circle cx="536.3" cy="489.6" r="1.03"/><circle cx="534.5" cy="488.1" r="0.92"/><circle cx="532.1" cy="489.9" r="1.05"/><circle cx="533.6" cy="488.3" r="0.87"/><circle cx="538.7" cy="485.4" r="1.07"/><circle cx="545.4" cy="485.0" r="0.97"/><circle cx="542.6" cy="484.0" r="1.20"/><circle cx="547.1" cy="484.7" r="0.94"/><circle cx="546.1" cy="486.0" r="1.12"/><circle cx="548.1" cy="483.9" r="0.86"/><circle cx="540.0" cy="484.9" r="0.87"/><circle cx="545.4" cy="485.1" r="1.18"/><circle cx="546.3" cy="484.7" r="0.99"/><circle cx="541.5" cy="485.6" r="1.05"/><circle cx="546.4" cy="485.5" r="0.99"/><circle cx="542.3" cy="486.8" r="1.20"/><circle cx="539.8" cy="485.3" r="0.97"/><circle cx="554.8" cy="482.0" r="0.87"/><circle cx="553.6" cy="481.9" r="1.19"/><circle cx="547.7" cy="484.7" r="1.18"/><circle cx="551.8" cy="482.1" r="1.12"/><circle cx="548.5" cy="483.1" r="0.89"/><circle cx="550.2" cy="481.8" r="0.90"/><circle cx="550.9" cy="482.5" r="0.92"/><circle cx="549.8" cy="483.3" r="1.18"/><circle cx="611.6" cy="447.0" r="1.7"/><circle cx="628.4" cy="443.5" r="2.2"/><circle cx="638.9" cy="442.4" r="1.3"/><circle cx="605.8" cy="485.9" r="1.2"/><circle cx="546.5" cy="508.3" r="2.2"/><circle cx="555.8" cy="513.5" r="2.1"/><circle cx="514.4" cy="528.8" r="1.1"/><circle cx="523.7" cy="533.0" r="1.1"/><circle cx="472.6" cy="507.9" r="1.1"/><circle cx="615.6" cy="261.5" r="1.3"/><circle cx="619.2" cy="262.4" r="1.5"/><circle cx="623.5" cy="264.9" r="1.0"/><circle cx="598.5" cy="274.8" r="1.0"/><circle cx="597.3" cy="279.7" r="1.0"/></g>
<path d="M603.7 363.4 608.1 364.3 610.7 367.8 609.8 371.3 607.2 370.4 604.6 366.9Z M610.7 384.4 613.3 382.7 615.1 386.2 614.2 390.5 611.6 394.9 609.8 399.3 608.1 401.9 606.3 400.1 607.2 394.9 609.0 391.4Z M582.7 474.4 585.3 470.9 587.1 475.3 585.3 479.3 582.4 477.0Z" stroke="#1e96e6" stroke-width="1.2" fill="#1e96e6"/>
<path d="M92.3 255.6 94.4 251.4 97.3 249.8 100.3 248.4 103.3 246.7 106.9 246.1 110.2 244.4 113.7 247.9 117.2 247.3 120.7 246.7 122.3 244.0 123.9 241.4 125.3 238.6 128.8 237.8 132.3 237.8 135.8 237.4 139.3 234.0 142.2 232.8 145.1 231.7 147.5 229.5 150.5 228.4 153.2 226.8 156.4 226.4 159.1 224.7 161.4 222.3 161.7 218.8 161.4 215.3 164.9 211.9 167.2 208.4 165.7 205.6 166.1 202.4 165.2 199.5 163.7 196.7 163.0 192.6 161.9 188.6 159.1 186.3 160.2 184.7 163.8 184.0 167.1 182.5 170.5 181.5 174.2 181.3 177.7 180.5 182.3 180.5 185.8 181.6 183.5 177.0 184.2 173.6 185.7 170.5 187.1 167.4 188.2 164.1 190.1 161.2 191.4 158.0 192.8 154.9 196.7 156.5 200.9 157.2 204.4 157.6 207.9 158.2 211.4 158.4 213.7 159.5 216.6 157.8 219.5 156.0 219.6 152.5 219.2 149.1 219.1 145.6 220.8 141.9 223.0 138.6 226.6 138.7 230.0 137.4 232.5 135.1 234.3 132.3 235.8 129.3 239.9 129.8 244.0 129.8 M243.5 130.0 244.7 135.8 247.7 138.0 250.5 140.5 254.7 141.9 258.6 144.0 262.8 144.9 266.7 146.3 269.5 148.2 271.4 151.0 273.0 154.6 275.4 157.9 277.2 161.4 276.7 165.5 277.2 169.6 276.2 173.1 274.9 176.5 M92.3 255.6 89.1 260.2 89.3 264.4 90.7 268.4 93.0 271.4 96.1 272.0 99.3 271.0 102.3 271.9 104.7 276.5 105.4 279.6 104.9 282.8 105.8 285.8 102.9 288.8 100.0 291.6 103.9 293.4 108.1 294.0 111.1 296.2 114.0 298.6 116.2 302.4 117.4 306.7 120.8 308.7 124.4 310.2 127.2 311.5 130.3 311.7 133.3 312.3 136.0 313.7 137.7 316.5 138.4 319.8 140.1 322.6 141.9 325.3 145.0 326.6 147.7 328.8 145.3 332.3 145.7 335.8 145.3 339.3 147.3 342.3 148.8 345.4 149.3 349.1 151.2 352.1 147.7 355.6 142.6 353.3 143.8 357.2 144.2 361.4 145.3 365.5 146.5 369.5 149.5 371.2 152.3 373.0 M153.5 374.0 156.6 376.0 159.3 378.6 162.6 379.9 165.3 382.0 168.6 383.3 172.1 386.7 174.4 382.1 180.2 383.3 182.7 385.0 185.1 386.9 187.2 389.1 190.7 390.9 193.8 393.3 196.5 396.0 202.3 397.2 204.0 400.2 205.8 403.0 209.5 404.4 212.8 406.5 216.3 410.0 220.3 411.9 224.4 413.5 230.2 413.5 234.4 414.5 238.4 415.8 241.5 415.4 244.7 415.7 247.7 414.7 252.3 413.5 253.5 416.4 254.7 419.3 255.8 424.0 258.1 420.5 260.0 416.4 261.6 412.3 267.4 411.2 271.4 412.8 275.6 413.5 281.4 414.7 284.9 418.1 287.2 421.6 288.8 425.0 289.5 428.6 295.3 429.3 298.8 428.2 302.4 428.6 305.8 427.4 308.1 425.4 309.4 422.6 311.6 420.5 314.9 418.1 318.8 416.9 322.1 414.7 326.7 411.2 330.2 411.8 333.7 411.2 337.0 412.3 339.6 414.8 343.0 415.8 347.7 413.5 M347.7 413.5 347.7 409.3 348.8 407.7 353.5 410.0 354.2 413.1 355.8 415.8 358.0 418.2 360.5 420.5 361.0 423.6 361.8 426.6 361.6 429.8 362.0 432.9 360.5 435.9 360.9 439.1 359.3 442.7 357.0 446.0 354.4 448.2 352.3 450.7 351.5 454.3 350.0 457.7 349.2 461.1 349.1 464.6 348.8 468.1 352.3 467.3 355.8 467.0 361.6 467.4 362.7 470.6 362.8 474.0 364.9 477.6 367.4 480.9 369.2 484.8 369.8 489.1 371.8 491.8 373.2 494.9 374.6 498.0 376.7 500.7 380.2 501.4 383.7 501.9 387.2 499.5 388.4 505.3 393.0 506.5 392.5 503.0 392.6 499.5 392.9 496.0 391.7 492.6 391.9 489.1 394.5 487.3 397.7 486.7 400.5 485.3 403.5 484.4 407.6 485.5 411.6 486.7 414.9 485.0 418.6 484.4 421.9 482.3 425.6 480.9 430.2 477.4 433.7 479.8 439.5 480.9 442.5 481.9 445.3 483.3 445.8 486.8 446.5 490.2 448.2 493.6 448.8 497.2 452.4 498.2 455.8 499.5 461.6 500.7 M273.7 177.0 276.0 181.2 279.4 182.4 283.1 182.2 286.5 183.5 289.6 184.2 292.8 183.5 295.8 184.4 298.9 185.4 302.0 186.0 305.1 186.8 308.4 187.8 311.2 189.8 314.4 191.0 317.3 192.7 320.2 194.4 324.9 195.1 326.5 198.9 328.4 202.6 329.6 206.3 331.9 209.6 333.9 211.9 335.3 214.7 338.5 214.2 341.6 214.9 344.7 215.4 348.5 216.0 352.4 215.7 356.3 216.5 360.2 216.2 364.0 217.4 367.9 217.0 371.2 217.2 374.4 216.9 377.7 217.5 380.9 216.8 384.2 217.0 387.0 218.0 390.1 218.1 392.9 219.2 395.8 220.0 399.1 222.2 402.8 223.5 405.8 224.8 408.9 225.6 412.1 225.8 415.2 226.3 418.3 227.2 421.4 227.7 426.0 230.0 430.0 230.0 M499.8 185.8 504.4 183.5 507.1 185.2 510.2 185.8 513.4 185.3 516.6 186.4 519.8 186.1 523.0 185.8 526.2 183.1 530.0 181.2 533.1 180.0 536.3 179.0 539.3 177.7 542.9 177.7 546.3 176.5 549.1 173.5 552.1 170.7 555.6 168.5 559.1 166.1 563.7 163.7 567.9 163.7 571.9 162.6 575.0 162.6 578.1 162.4 581.2 161.4 584.7 161.4 588.1 161.4 589.3 156.8 587.1 153.7 584.7 151.0 581.5 149.6 578.8 147.5 575.5 145.7 571.9 144.4 567.2 144.0 562.6 147.5 556.7 146.3 552.7 145.9 548.6 146.3 544.0 145.8 541.6 142.8 543.0 140.0 544.0 137.0 545.4 133.0 546.3 128.9 548.3 125.1 550.9 121.9 554.4 119.6 557.1 121.2 560.2 121.9 563.0 123.3 566.0 123.5 M750.7 139.3 748.4 144.0 749.1 146.3 747.5 149.6 744.9 152.1 743.7 155.0 742.6 157.9 741.5 160.9 740.2 163.7 737.9 166.3 736.7 169.6 735.0 172.9 734.4 176.5 730.9 180.0 729.8 183.5 724.0 182.3 719.3 181.7 M430.0 230.0 433.2 228.5 436.1 226.2 439.3 224.7 442.3 223.3 445.6 222.5 448.6 221.2 451.6 220.1 454.9 220.4 457.9 219.6 461.8 218.8 465.7 219.1 469.5 218.9 473.3 217.7 477.2 216.9 481.2 216.5 484.3 215.0 487.3 213.4 490.5 211.9 492.7 209.8 495.0 207.9 497.4 206.1 499.8 203.8 502.1 201.4 500.5 198.7 499.8 195.6 499.9 192.0 500.9 188.6 499.8 185.8 M635.6 256.1 636.7 253.2 637.9 250.3 641.8 248.5 644.9 245.6 647.8 244.0 650.1 241.5 653.0 239.8 655.8 237.9 657.7 235.1 660.3 232.4 662.3 229.3 665.8 229.3 669.3 231.7 672.7 232.8 676.3 233.3 678.6 230.5 677.4 225.8 681.0 225.7 684.4 224.7 687.9 223.4 691.4 222.3 693.7 218.9 697.2 214.2 700.7 215.4 704.2 220.0 703.0 215.4 706.8 214.1 710.0 211.9 711.1 208.5 711.2 204.9 710.9 201.4 710.0 197.9 710.0 194.8 709.6 191.7 708.8 188.6 710.0 186.3 712.9 185.0 715.8 184.0 718.1 181.2 721.0 182.3 724.0 182.8 720.0 184.0 715.8 184.0" stroke="#000" stroke-width="2.2"/>
<path d="M567.2 121.9 575.3 117.2 M612.6 73.0 624.2 71.4 M612.3 73.0 624.0 71.9 M664.7 96.3 667.0 104.4 M671.6 123.0 680.9 124.2 M700.7 131.2 705.3 132.3 704.9 135.8 M724.0 149.8 730.9 144.4 M744.9 138.2 751.9 138.9 M619.8 459.5 618.9 470.0 M603.5 508.1 608.1 501.4 M585.3 544.2 589.4 536.2" stroke="#000" stroke-width="2.6"/>
</g>
<rect x="57" y="441.3" width="97" height="135" fill="#fff" stroke="#000" stroke-width="2"/><polyline points="74.6,448.7 78.7,449.3 82.3,449.3 85.8,447.5 90.6,446.9 95.3,446.3 100.0,445.1 104.8,443.9 108.4,442.7 112.0,442.7 116.7,442.2" fill="none" stroke="#1e96e6" stroke-width="1.6" stroke-linecap="round" stroke-linejoin="round"/><polyline points="82.3,449.3 85.8,445.1 90.6,442.2" fill="none" stroke="#333" stroke-width="0.7" stroke-linecap="round" stroke-linejoin="round"/><polyline points="82.3,449.3 83.5,453.0 84.7,456.0 86.5,454.6 86.0,451.0" fill="none" stroke="#1e96e6" stroke-width="1.3" stroke-linecap="round" stroke-linejoin="round"/><polyline points="76.9,461.7 79.9,459.4 84.7,458.2 88.8,458.8 89.4,461.1 87.6,464.7 85.8,466.5 82.3,468.2 79.9,467.7 76.9,465.9 76.4,463.5 76.9,461.7" fill="none" stroke="#1e96e6" stroke-width="1.4" stroke-linecap="round" stroke-linejoin="round"/><polyline points="138.0,442.7 141.0,446.0 146.3,447.5" fill="none" stroke="#1e96e6" stroke-width="1.4" stroke-linecap="round" stroke-linejoin="round"/><polyline points="65.7,446.5 68.6,448.7" fill="none" stroke="#000" stroke-width="2.2" stroke-linecap="round" stroke-linejoin="round"/><polyline points="68.6,448.7 73.4,449.6" fill="none" stroke="#000" stroke-width="2.2" stroke-linecap="round" stroke-linejoin="round"/><polyline points="148.7,448.1 142.8,456.4" fill="none" stroke="#000" stroke-width="2.2" stroke-linecap="round" stroke-linejoin="round"/><polyline points="138.0,464.7 133.9,473.0" fill="none" stroke="#000" stroke-width="2.2" stroke-linecap="round" stroke-linejoin="round"/><polyline points="132.7,481.9 132.7,490.8" fill="none" stroke="#000" stroke-width="2.2" stroke-linecap="round" stroke-linejoin="round"/><polyline points="133.3,505.6 131.5,510.5" fill="none" stroke="#000" stroke-width="2.2" stroke-linecap="round" stroke-linejoin="round"/><polyline points="78.1,478.9 82.9,486.6" fill="none" stroke="#000" stroke-width="2.2" stroke-linecap="round" stroke-linejoin="round"/><polyline points="85.2,502.4 86.4,505.3" fill="none" stroke="#000" stroke-width="2.2" stroke-linecap="round" stroke-linejoin="round"/><polyline points="86.4,505.3 84.7,510.7" fill="none" stroke="#000" stroke-width="2.2" stroke-linecap="round" stroke-linejoin="round"/><polyline points="132.7,505.3 129.1,514.2" fill="none" stroke="#000" stroke-width="2.2" stroke-linecap="round" stroke-linejoin="round"/><polyline points="117.9,529.1 112.5,536.2" fill="none" stroke="#000" stroke-width="2.2" stroke-linecap="round" stroke-linejoin="round"/><polyline points="74.0,531.4 74.0,541.0" fill="none" stroke="#000" stroke-width="2.2" stroke-linecap="round" stroke-linejoin="round"/><polyline points="93.0,556.3 100.1,554.0" fill="none" stroke="#000" stroke-width="2.2" stroke-linecap="round" stroke-linejoin="round"/><g fill="#1e96e6"><circle cx="116.0" cy="452.8" r="0.9"/><circle cx="120.8" cy="455.2" r="0.9"/><circle cx="100.0" cy="461.7" r="0.9"/><circle cx="104.8" cy="463.5" r="0.9"/><circle cx="120.0" cy="480.1" r="0.9"/><circle cx="126.0" cy="486.6" r="0.9"/><circle cx="113.1" cy="493.8" r="0.9"/><circle cx="95.3" cy="551.0" r="0.9"/><circle cx="93.1" cy="480.6" r="0.8"/><circle cx="94.3" cy="481.0" r="0.8"/><circle cx="96.6" cy="477.0" r="0.8"/><circle cx="91.1" cy="482.8" r="0.8"/><circle cx="93.3" cy="478.3" r="0.8"/><circle cx="100.0" cy="480.0" r="0.8"/><circle cx="98.5" cy="480.1" r="0.8"/><circle cx="96.8" cy="477.6" r="0.8"/><circle cx="96.7" cy="483.0" r="0.8"/><circle cx="95.7" cy="482.1" r="0.8"/><circle cx="97.0" cy="477.0" r="0.8"/><circle cx="97.8" cy="480.9" r="0.8"/><circle cx="93.7" cy="476.7" r="0.8"/><circle cx="98.8" cy="480.0" r="0.8"/><circle cx="97.5" cy="483.1" r="0.8"/><circle cx="97.4" cy="483.4" r="0.8"/><circle cx="94.6" cy="482.5" r="0.8"/><circle cx="95.0" cy="483.5" r="0.8"/><circle cx="116.1" cy="508.1" r="0.9"/><circle cx="121.6" cy="511.7" r="0.9"/><circle cx="113.3" cy="515.4" r="1.0"/><circle cx="120.8" cy="517.6" r="1.1"/><circle cx="126.5" cy="513.7" r="0.9"/><circle cx="126.2" cy="516.0" r="1.0"/><circle cx="114.7" cy="517.3" r="1.0"/><circle cx="105.6" cy="523.6" r="1.1"/><circle cx="111.1" cy="521.9" r="0.9"/><circle cx="114.2" cy="523.6" r="0.9"/><circle cx="111.0" cy="517.6" r="0.9"/><circle cx="126.7" cy="511.7" r="1.1"/><circle cx="106.2" cy="520.7" r="0.9"/><circle cx="108.3" cy="522.3" r="0.9"/><circle cx="111.1" cy="521.5" r="1.1"/><circle cx="119.8" cy="511.1" r="1.0"/><circle cx="118.1" cy="515.6" r="1.0"/><circle cx="122.1" cy="510.1" r="1.1"/><circle cx="107.7" cy="525.5" r="1.0"/><circle cx="109.5" cy="515.5" r="1.0"/><circle cx="107.7" cy="525.0" r="0.9"/><circle cx="116.3" cy="517.0" r="1.0"/><circle cx="120.9" cy="509.3" r="0.9"/><circle cx="123.1" cy="512.0" r="1.0"/><circle cx="113.9" cy="514.3" r="0.9"/><circle cx="113.4" cy="516.8" r="1.0"/><circle cx="113.5" cy="513.9" r="1.1"/><circle cx="107.9" cy="522.7" r="0.9"/><circle cx="108.4" cy="523.4" r="0.9"/><circle cx="109.5" cy="522.8" r="1.0"/><circle cx="116.6" cy="510.4" r="1.0"/><circle cx="120.5" cy="508.9" r="0.9"/><circle cx="111.3" cy="519.7" r="1.1"/><circle cx="106.5" cy="524.5" r="1.0"/><circle cx="117.8" cy="509.0" r="0.9"/><circle cx="116.7" cy="511.3" r="1.0"/><circle cx="112.1" cy="522.3" r="0.9"/><circle cx="111.4" cy="527.7" r="1.1"/><circle cx="118.8" cy="522.2" r="0.9"/><circle cx="122.7" cy="515.2" r="1.0"/><circle cx="109.0" cy="517.2" r="0.9"/><circle cx="113.5" cy="518.9" r="0.9"/><circle cx="123.7" cy="515.6" r="1.1"/><circle cx="122.2" cy="506.5" r="1.1"/><circle cx="106.5" cy="523.2" r="1.0"/><circle cx="118.3" cy="519.3" r="1.0"/><circle cx="114.6" cy="520.2" r="1.1"/><circle cx="108.3" cy="519.4" r="1.1"/><circle cx="112.4" cy="525.8" r="1.1"/><circle cx="114.1" cy="513.8" r="1.1"/><circle cx="104.1" cy="521.0" r="1.0"/><circle cx="112.9" cy="520.8" r="0.9"/><circle cx="102.5" cy="519.5" r="0.9"/><circle cx="126.8" cy="506.2" r="1.0"/><circle cx="109.1" cy="518.1" r="1.0"/><circle cx="114.3" cy="512.7" r="0.9"/><circle cx="108.8" cy="524.4" r="1.0"/><circle cx="103.5" cy="521.6" r="1.0"/><circle cx="117.9" cy="516.1" r="1.0"/><circle cx="111.8" cy="517.9" r="1.1"/><circle cx="115.5" cy="517.7" r="0.9"/><circle cx="117.5" cy="512.2" r="1.0"/><circle cx="117.8" cy="522.4" r="1.0"/><circle cx="124.8" cy="509.1" r="1.0"/><circle cx="111.9" cy="523.9" r="1.1"/><circle cx="121.5" cy="515.2" r="1.0"/><circle cx="108.8" cy="517.6" r="0.9"/><circle cx="113.7" cy="509.1" r="0.9"/><circle cx="117.1" cy="506.9" r="1.1"/><circle cx="112.2" cy="524.0" r="1.1"/><circle cx="123.1" cy="513.7" r="0.9"/><circle cx="119.2" cy="515.4" r="0.9"/><circle cx="123.9" cy="509.1" r="0.9"/><circle cx="119.5" cy="513.5" r="0.9"/><circle cx="111.6" cy="523.0" r="1.0"/><circle cx="111.0" cy="517.4" r="1.0"/><circle cx="107.4" cy="527.6" r="1.0"/><circle cx="114.6" cy="515.4" r="1.1"/><circle cx="117.7" cy="514.4" r="1.0"/><circle cx="117.0" cy="507.4" r="1.1"/><circle cx="121.8" cy="510.6" r="1.1"/><circle cx="106.4" cy="518.4" r="1.0"/><circle cx="108.1" cy="521.5" r="1.1"/><circle cx="113.5" cy="519.0" r="1.1"/><circle cx="113.1" cy="513.0" r="0.9"/><circle cx="98.8" cy="525.2" r="0.8"/><circle cx="94.3" cy="530.0" r="0.8"/><circle cx="89.1" cy="530.4" r="0.8"/><circle cx="103.4" cy="528.0" r="0.8"/><circle cx="111.8" cy="523.7" r="0.8"/><circle cx="109.4" cy="524.2" r="0.8"/><circle cx="110.3" cy="524.5" r="0.8"/><circle cx="89.2" cy="531.0" r="0.8"/><circle cx="108.1" cy="527.4" r="0.8"/><circle cx="89.5" cy="528.1" r="0.8"/><circle cx="89.6" cy="532.3" r="0.8"/><circle cx="113.4" cy="525.2" r="0.8"/><circle cx="93.0" cy="530.2" r="0.8"/><circle cx="83.5" cy="533.1" r="0.8"/><circle cx="91.9" cy="529.6" r="0.8"/><circle cx="104.3" cy="524.3" r="0.8"/><circle cx="97.6" cy="525.9" r="0.8"/><circle cx="104.9" cy="525.5" r="0.8"/><circle cx="100.1" cy="525.2" r="0.8"/><circle cx="104.4" cy="527.7" r="0.8"/><circle cx="113.1" cy="525.6" r="0.8"/><circle cx="96.6" cy="529.8" r="0.8"/><circle cx="93.3" cy="530.0" r="0.8"/><circle cx="110.1" cy="525.5" r="0.8"/><circle cx="117.3" cy="522.6" r="0.8"/><circle cx="86.1" cy="530.0" r="0.8"/><circle cx="108.6" cy="525.2" r="0.8"/><circle cx="89.1" cy="531.0" r="0.8"/><circle cx="90.0" cy="531.1" r="0.8"/><circle cx="88.2" cy="528.6" r="0.8"/><circle cx="97.5" cy="545.1" r="0.8"/><circle cx="98.3" cy="543.7" r="0.8"/><circle cx="98.4" cy="542.8" r="0.8"/><circle cx="97.4" cy="540.5" r="0.8"/><circle cx="96.7" cy="545.0" r="0.8"/><circle cx="98.8" cy="543.6" r="0.8"/><circle cx="98.7" cy="542.0" r="0.8"/></g><ellipse cx="107.2" cy="483.6" rx="3.5" ry="2.0" fill="#1e96e6" transform="rotate(-20.0 107.2 483.6)"/>
<rect x="51.4" y="37.2" width="753.8" height="539.0" fill="none" stroke="#000" stroke-width="1.6"/>
<path d="M46.4 576.2H51.4M46.4 468.4H51.4M46.4 360.6H51.4M46.4 252.8H51.4M46.4 145.0H51.4M46.4 37.2H51.4M51.4 576.2V581.2M159.1 576.2V581.2M266.8 576.2V581.2M374.5 576.2V581.2M482.1 576.2V581.2M589.8 576.2V581.2M697.5 576.2V581.2M805.2 576.2V581.2" stroke="#000" stroke-width="1.5" fill="none"/>
<text x="35.3" y="581.8" style="font-family:'Liberation Sans','DejaVu Sans',sans-serif;font-size:15.5px" text-anchor="end" textLength="15.4" lengthAdjust="spacingAndGlyphs">16</text>
<text x="35.3" y="474.0" style="font-family:'Liberation Sans','DejaVu Sans',sans-serif;font-size:15.5px" text-anchor="end" textLength="15.4" lengthAdjust="spacingAndGlyphs">24</text>
<text x="35.3" y="366.2" style="font-family:'Liberation Sans','DejaVu Sans',sans-serif;font-size:15.5px" text-anchor="end" textLength="15.4" lengthAdjust="spacingAndGlyphs">32</text>
<text x="35.3" y="258.4" style="font-family:'Liberation Sans','DejaVu Sans',sans-serif;font-size:15.5px" text-anchor="end" textLength="15.4" lengthAdjust="spacingAndGlyphs">40</text>
<text x="35.3" y="150.6" style="font-family:'Liberation Sans','DejaVu Sans',sans-serif;font-size:15.5px" text-anchor="end" textLength="15.4" lengthAdjust="spacingAndGlyphs">48</text>
<text x="12" y="42.4" style="font-family:'Liberation Sans','DejaVu Sans',sans-serif;font-size:15.5px" textLength="30.5" lengthAdjust="spacingAndGlyphs">56<tspan style="font-family:'Liberation Serif',serif;font-weight:bold;stroke:#000;stroke-width:0.4px">°N</tspan></text>
<text x="40.4" y="594.2" style="font-family:'Liberation Sans','DejaVu Sans',sans-serif;font-size:15.2px" textLength="15.0" lengthAdjust="spacingAndGlyphs">70</text>
<text x="148.1" y="594.2" style="font-family:'Liberation Sans','DejaVu Sans',sans-serif;font-size:15.2px" textLength="15.0" lengthAdjust="spacingAndGlyphs">80</text>
<text x="255.8" y="594.2" style="font-family:'Liberation Sans','DejaVu Sans',sans-serif;font-size:15.2px" textLength="15.0" lengthAdjust="spacingAndGlyphs">90</text>
<text x="359.7" y="594.2" style="font-family:'Liberation Sans','DejaVu Sans',sans-serif;font-size:15.2px" textLength="22.5" lengthAdjust="spacingAndGlyphs">100</text>
<text x="467.4" y="594.2" style="font-family:'Liberation Sans','DejaVu Sans',sans-serif;font-size:15.2px" textLength="22.5" lengthAdjust="spacingAndGlyphs">110</text>
<text x="575.1" y="594.2" style="font-family:'Liberation Sans','DejaVu Sans',sans-serif;font-size:15.2px" textLength="22.5" lengthAdjust="spacingAndGlyphs">120</text>
<text x="682.8" y="594.2" style="font-family:'Liberation Sans','DejaVu Sans',sans-serif;font-size:15.2px" textLength="22.5" lengthAdjust="spacingAndGlyphs">130</text>
<text x="787.3" y="594.1" style="font-family:'Liberation Sans','DejaVu Sans',sans-serif;font-size:15.2px" textLength="36.8" lengthAdjust="spacingAndGlyphs">140<tspan style="font-family:'Liberation Serif',serif;font-weight:bold;stroke:#000;stroke-width:0.4px">°E</tspan></text>
<text x="52" y="29" style="font-family:'Liberation Sans','DejaVu Sans',sans-serif;font-size:20.5px;stroke:#000;stroke-width:0.35px" textLength="136" lengthAdjust="spacingAndGlyphs">rain24.PROB</text><text x="205" y="29" style="font-family:'Liberation Sans','DejaVu Sans',sans-serif;font-size:20.5px;stroke:#000;stroke-width:0.35px" textLength="209" lengthAdjust="spacingAndGlyphs">&gt;=50.mm(shaded)</text><text x="705.3" y="27.3" style="font-family:'Liberation Sans','DejaVu Sans',sans-serif;font-size:16.5px" textLength="98.8" lengthAdjust="spacingAndGlyphs">CMA&#8211;GEPS</text><text x="52" y="619" style="font-family:'Liberation Sans','DejaVu Sans',sans-serif;font-size:17px" textLength="201" lengthAdjust="spacingAndGlyphs">2025102900&#160;&#160;+&#160;&#160;102h</text><text x="52" y="642" style="font-family:'Liberation Sans','DejaVu Sans',sans-serif;font-size:17px" textLength="201" lengthAdjust="spacingAndGlyphs">2025102908&#160;&#160;+&#160;&#160;102h</text><text x="635.8" y="618.5" style="font-family:'Liberation Sans','DejaVu Sans',sans-serif;font-size:17px" textLength="168" lengthAdjust="spacingAndGlyphs">2025110206(UTC)</text><text x="635.8" y="641" style="font-family:'Liberation Sans','DejaVu Sans',sans-serif;font-size:17px" textLength="168" lengthAdjust="spacingAndGlyphs">2025110214(CST)</text><text x="636.5" y="556.7" style="font-family:'Liberation Sans','Noto Sans CJK SC',sans-serif;font-size:16px;font-weight:bold">审图号</text><text x="687.5" y="557" style="font-family:'Liberation Sans','Noto Sans CJK SC',sans-serif;font-size:13px;font-weight:bold">:</text><text x="699" y="557" style="font-family:'Liberation Sans','DejaVu Sans',sans-serif;font-size:11.7px;font-weight:bold" textLength="96.3" lengthAdjust="spacingAndGlyphs">GS(2019)&#160;&#160;1786</text><text x="698" y="572.3" style="font-family:'Liberation Sans','DejaVu Sans',sans-serif;font-size:12.5px;font-weight:bold" textLength="72.6" lengthAdjust="spacingAndGlyphs">1:20000000</text><text x="82" y="571.8" style="font-family:'Liberation Sans','DejaVu Sans',sans-serif;font-size:9.5px;font-weight:bold" textLength="58.4" lengthAdjust="spacingAndGlyphs">1:40000000</text>
<rect x="818.4" y="137.2" width="12.9" height="27.2" fill="#f58a22"/><rect x="818.4" y="164.4" width="12.9" height="27.1" fill="#f7a540"/><rect x="818.4" y="191.5" width="12.9" height="27.0" fill="#a0a43c"/><rect x="818.4" y="218.5" width="12.9" height="27.0" fill="#709e38"/><rect x="818.4" y="245.5" width="12.9" height="27.0" fill="#3a9a34"/><rect x="818.4" y="272.5" width="12.9" height="27.0" fill="#2e8438"/><rect x="818.4" y="299.5" width="12.9" height="27.1" fill="#1e6a5e"/><rect x="818.4" y="326.6" width="12.9" height="27.0" fill="#2464d8"/><rect x="818.4" y="353.6" width="12.9" height="27.0" fill="#3a78ee"/><rect x="818.4" y="380.6" width="12.9" height="27.0" fill="#4a90e6"/><rect x="818.4" y="407.6" width="12.9" height="26.9" fill="#5ca8f0"/><rect x="818.4" y="434.5" width="12.9" height="27.0" fill="#84bef2"/><rect x="818.4" y="461.5" width="12.9" height="26.9" fill="#b4d6f4"/><rect x="818.4" y="488.4" width="12.9" height="26.8" fill="#d4e6f6"/><polygon points="818.4,137.2 824.8,110 831.3,137.2" fill="#f0603c" stroke="#000" stroke-width="1.5" stroke-linejoin="miter"/><polygon points="818.4,515.2 824.8,541.5 831.3,515.2" fill="#fff" stroke="#000" stroke-width="1.5"/><path d="M818.4 137.2H831.3M818.4 164.4H831.3M818.4 191.5H831.3M818.4 218.5H831.3M818.4 245.5H831.3M818.4 272.5H831.3M818.4 299.5H831.3M818.4 326.6H831.3M818.4 353.6H831.3M818.4 380.6H831.3M818.4 407.6H831.3M818.4 434.5H831.3M818.4 461.5H831.3M818.4 488.4H831.3M818.4 515.2H831.3" stroke="#000" stroke-width="1.5" fill="none"/><path d="M818.4 137.2V515.2M831.3 137.2V515.2" stroke="#000" stroke-width="1.5" fill="none"/><text x="835.1" y="141.7" style="font-family:'Liberation Sans',sans-serif;font-size:11.3px;font-weight:bold" textLength="13.7" lengthAdjust="spacingAndGlyphs">90</text><text x="835.1" y="168.9" style="font-family:'Liberation Sans',sans-serif;font-size:11.3px;font-weight:bold" textLength="13.7" lengthAdjust="spacingAndGlyphs">80</text><text x="835.1" y="196.0" style="font-family:'Liberation Sans',sans-serif;font-size:11.3px;font-weight:bold" textLength="13.7" lengthAdjust="spacingAndGlyphs">70</text><text x="835.1" y="223.0" style="font-family:'Liberation Sans',sans-serif;font-size:11.3px;font-weight:bold" textLength="13.7" lengthAdjust="spacingAndGlyphs">60</text><text x="835.1" y="250.0" style="font-family:'Liberation Sans',sans-serif;font-size:11.3px;font-weight:bold" textLength="13.7" lengthAdjust="spacingAndGlyphs">55</text><text x="835.1" y="277.0" style="font-family:'Liberation Sans',sans-serif;font-size:11.3px;font-weight:bold" textLength="13.7" lengthAdjust="spacingAndGlyphs">50</text><text x="835.1" y="304.0" style="font-family:'Liberation Sans',sans-serif;font-size:11.3px;font-weight:bold" textLength="13.7" lengthAdjust="spacingAndGlyphs">45</text><text x="835.1" y="331.1" style="font-family:'Liberation Sans',sans-serif;font-size:11.3px;font-weight:bold" textLength="13.7" lengthAdjust="spacingAndGlyphs">40</text><text x="835.1" y="358.1" style="font-family:'Liberation Sans',sans-serif;font-size:11.3px;font-weight:bold" textLength="13.7" lengthAdjust="spacingAndGlyphs">35</text><text x="835.1" y="385.1" style="font-family:'Liberation Sans',sans-serif;font-size:11.3px;font-weight:bold" textLength="13.7" lengthAdjust="spacingAndGlyphs">30</text><text x="835.1" y="412.1" style="font-family:'Liberation Sans',sans-serif;font-size:11.3px;font-weight:bold" textLength="13.7" lengthAdjust="spacingAndGlyphs">25</text><text x="835.1" y="439.0" style="font-family:'Liberation Sans',sans-serif;font-size:11.3px;font-weight:bold" textLength="13.7" lengthAdjust="spacingAndGlyphs">20</text><text x="835.1" y="466.0" style="font-family:'Liberation Sans',sans-serif;font-size:11.3px;font-weight:bold" textLength="13.7" lengthAdjust="spacingAndGlyphs">15</text><text x="835.1" y="492.9" style="font-family:'Liberation Sans',sans-serif;font-size:11.3px;font-weight:bold" textLength="13.7" lengthAdjust="spacingAndGlyphs">10</text><text x="835.1" y="519.7" style="font-family:'Liberation Sans',sans-serif;font-size:11.3px;font-weight:bold" textLength="6.8" lengthAdjust="spacingAndGlyphs">5</text>
</svg>
</body></html>
